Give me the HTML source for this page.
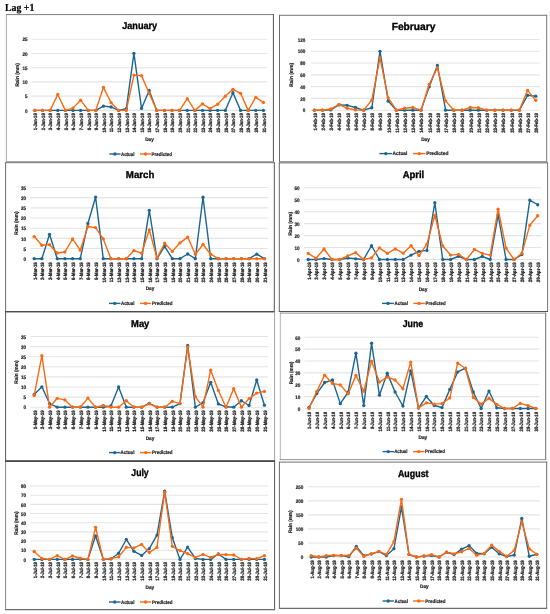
<!DOCTYPE html><html><head><meta charset="utf-8"><title>Lag +1</title><style>html,body{margin:0;padding:0;background:#fff}body{width:550px;height:614px;overflow:hidden}svg{display:block}svg{filter:blur(0.3px)}text{text-rendering:geometricPrecision;font-family:"Liberation Sans",sans-serif;font-weight:bold;fill:#222;stroke:#222;stroke-width:0.2px}</style></head><body>
<svg width="550" height="614" viewBox="0 0 550 614">
<rect width="550" height="614" fill="#fff"/>
<text x="5" y="11" style="font-family:'Liberation Serif',serif;font-size:10.7px;fill:#000;stroke:#000;stroke-width:0.2px" textLength="29.3" lengthAdjust="spacingAndGlyphs">Lag +1</text>
<g>
<line x1="6.4" x2="6.4" y1="14.2" y2="162.1" stroke="#9e9e9e" stroke-width="0.9"/>
<line x1="6" x2="273.8" y1="14.6" y2="14.6" stroke="#6f6f6f" stroke-width="0.9"/>
<line x1="273.4" x2="273.4" y1="14.2" y2="162.1" stroke="#515151" stroke-width="1.0"/>
<line x1="6" x2="273.8" y1="161.7" y2="161.7" stroke="#979797" stroke-width="1.0"/>
<text x="139.7" y="29" font-size="10.0" text-anchor="middle" textLength="35" lengthAdjust="spacingAndGlyphs" style="fill:#000;stroke:#000;stroke-width:0.35px">January</text>
<line x1="31.4" x2="267.3" y1="110.4" y2="110.4" stroke="#e4e4e4" stroke-width="1.1"/>
<text transform="translate(27.5 112.6) scale(0.9 1)" font-size="5.1" text-anchor="end">0</text>
<line x1="31.4" x2="267.3" y1="96.16" y2="96.16" stroke="#e4e4e4" stroke-width="1.1"/>
<text transform="translate(27.5 98.36) scale(0.9 1)" font-size="5.1" text-anchor="end">5</text>
<line x1="31.4" x2="267.3" y1="81.92" y2="81.92" stroke="#e4e4e4" stroke-width="1.1"/>
<text transform="translate(27.5 84.12) scale(0.9 1)" font-size="5.1" text-anchor="end">10</text>
<line x1="31.4" x2="267.3" y1="67.68" y2="67.68" stroke="#e4e4e4" stroke-width="1.1"/>
<text transform="translate(27.5 69.88) scale(0.9 1)" font-size="5.1" text-anchor="end">15</text>
<line x1="31.4" x2="267.3" y1="53.44" y2="53.44" stroke="#e4e4e4" stroke-width="1.1"/>
<text transform="translate(27.5 55.64) scale(0.9 1)" font-size="5.1" text-anchor="end">20</text>
<line x1="31.4" x2="267.3" y1="39.2" y2="39.2" stroke="#e4e4e4" stroke-width="1.1"/>
<text transform="translate(27.5 41.4) scale(0.9 1)" font-size="5.1" text-anchor="end">25</text>
<text transform="translate(18.8 74.8) rotate(-90)" font-size="5.1" text-anchor="middle" textLength="23.5" lengthAdjust="spacingAndGlyphs">Rain (mm)</text>
<text transform="translate(37.2 113.3) rotate(-90) scale(0.85 1)" font-size="4.9" text-anchor="end" style="stroke-width:0.28px">1-Jan-19</text>
<text transform="translate(44.82 113.3) rotate(-90) scale(0.85 1)" font-size="4.9" text-anchor="end" style="stroke-width:0.28px">2-Jan-19</text>
<text transform="translate(52.43 113.3) rotate(-90) scale(0.85 1)" font-size="4.9" text-anchor="end" style="stroke-width:0.28px">3-Jan-19</text>
<text transform="translate(60.05 113.3) rotate(-90) scale(0.85 1)" font-size="4.9" text-anchor="end" style="stroke-width:0.28px">4-Jan-19</text>
<text transform="translate(67.67 113.3) rotate(-90) scale(0.85 1)" font-size="4.9" text-anchor="end" style="stroke-width:0.28px">5-Jan-19</text>
<text transform="translate(75.28 113.3) rotate(-90) scale(0.85 1)" font-size="4.9" text-anchor="end" style="stroke-width:0.28px">6-Jan-19</text>
<text transform="translate(82.9 113.3) rotate(-90) scale(0.85 1)" font-size="4.9" text-anchor="end" style="stroke-width:0.28px">7-Jan-19</text>
<text transform="translate(90.52 113.3) rotate(-90) scale(0.85 1)" font-size="4.9" text-anchor="end" style="stroke-width:0.28px">8-Jan-19</text>
<text transform="translate(98.13 113.3) rotate(-90) scale(0.85 1)" font-size="4.9" text-anchor="end" style="stroke-width:0.28px">9-Jan-19</text>
<text transform="translate(105.75 113.3) rotate(-90) scale(0.85 1)" font-size="4.9" text-anchor="end" style="stroke-width:0.28px">10-Jan-19</text>
<text transform="translate(113.37 113.3) rotate(-90) scale(0.85 1)" font-size="4.9" text-anchor="end" style="stroke-width:0.28px">11-Jan-19</text>
<text transform="translate(120.98 113.3) rotate(-90) scale(0.85 1)" font-size="4.9" text-anchor="end" style="stroke-width:0.28px">12-Jan-19</text>
<text transform="translate(128.6 113.3) rotate(-90) scale(0.85 1)" font-size="4.9" text-anchor="end" style="stroke-width:0.28px">13-Jan-19</text>
<text transform="translate(136.22 113.3) rotate(-90) scale(0.85 1)" font-size="4.9" text-anchor="end" style="stroke-width:0.28px">14-Jan-19</text>
<text transform="translate(143.83 113.3) rotate(-90) scale(0.85 1)" font-size="4.9" text-anchor="end" style="stroke-width:0.28px">15-Jan-19</text>
<text transform="translate(151.45 113.3) rotate(-90) scale(0.85 1)" font-size="4.9" text-anchor="end" style="stroke-width:0.28px">16-Jan-19</text>
<text transform="translate(159.07 113.3) rotate(-90) scale(0.85 1)" font-size="4.9" text-anchor="end" style="stroke-width:0.28px">17-Jan-19</text>
<text transform="translate(166.68 113.3) rotate(-90) scale(0.85 1)" font-size="4.9" text-anchor="end" style="stroke-width:0.28px">18-Jan-19</text>
<text transform="translate(174.3 113.3) rotate(-90) scale(0.85 1)" font-size="4.9" text-anchor="end" style="stroke-width:0.28px">19-Jan-19</text>
<text transform="translate(181.92 113.3) rotate(-90) scale(0.85 1)" font-size="4.9" text-anchor="end" style="stroke-width:0.28px">20-Jan-19</text>
<text transform="translate(189.53 113.3) rotate(-90) scale(0.85 1)" font-size="4.9" text-anchor="end" style="stroke-width:0.28px">21-Jan-19</text>
<text transform="translate(197.15 113.3) rotate(-90) scale(0.85 1)" font-size="4.9" text-anchor="end" style="stroke-width:0.28px">22-Jan-19</text>
<text transform="translate(204.77 113.3) rotate(-90) scale(0.85 1)" font-size="4.9" text-anchor="end" style="stroke-width:0.28px">23-Jan-19</text>
<text transform="translate(212.38 113.3) rotate(-90) scale(0.85 1)" font-size="4.9" text-anchor="end" style="stroke-width:0.28px">24-Jan-19</text>
<text transform="translate(220 113.3) rotate(-90) scale(0.85 1)" font-size="4.9" text-anchor="end" style="stroke-width:0.28px">25-Jan-19</text>
<text transform="translate(227.62 113.3) rotate(-90) scale(0.85 1)" font-size="4.9" text-anchor="end" style="stroke-width:0.28px">26-Jan-19</text>
<text transform="translate(235.23 113.3) rotate(-90) scale(0.85 1)" font-size="4.9" text-anchor="end" style="stroke-width:0.28px">27-Jan-19</text>
<text transform="translate(242.85 113.3) rotate(-90) scale(0.85 1)" font-size="4.9" text-anchor="end" style="stroke-width:0.28px">28-Jan-19</text>
<text transform="translate(250.47 113.3) rotate(-90) scale(0.85 1)" font-size="4.9" text-anchor="end" style="stroke-width:0.28px">29-Jan-19</text>
<text transform="translate(258.08 113.3) rotate(-90) scale(0.85 1)" font-size="4.9" text-anchor="end" style="stroke-width:0.28px">30-Jan-19</text>
<text transform="translate(265.7 113.3) rotate(-90) scale(0.85 1)" font-size="4.9" text-anchor="end" style="stroke-width:0.28px">31-Jan-19</text>
<text transform="translate(149.5 141.3) scale(0.92 1)" font-size="5.1" text-anchor="middle">Day</text>
<polyline points="34.9,110.4 42.52,110.4 50.13,110.4 57.75,110.4 65.37,110.4 72.98,110.4 80.6,110.4 88.22,110.4 95.83,110.4 103.45,106.13 111.07,106.98 118.68,110.4 126.3,108.69 133.92,53.44 141.53,108.41 149.15,90.46 156.77,110.4 164.38,110.4 172,110.4 179.62,110.4 187.23,110.4 194.85,110.4 202.47,110.4 210.08,110.4 217.7,110.4 225.32,110.4 232.93,92.74 240.55,110.4 248.17,110.4 255.78,110.4 263.4,110.4" fill="none" stroke="#1b6690" stroke-width="1.4" stroke-linejoin="round" stroke-linecap="round"/>
<g fill="#1b6690"><circle cx="34.9" cy="110.4" r="1.65"/><circle cx="42.52" cy="110.4" r="1.65"/><circle cx="50.13" cy="110.4" r="1.65"/><circle cx="57.75" cy="110.4" r="1.65"/><circle cx="65.37" cy="110.4" r="1.65"/><circle cx="72.98" cy="110.4" r="1.65"/><circle cx="80.6" cy="110.4" r="1.65"/><circle cx="88.22" cy="110.4" r="1.65"/><circle cx="95.83" cy="110.4" r="1.65"/><circle cx="103.45" cy="106.13" r="1.65"/><circle cx="111.07" cy="106.98" r="1.65"/><circle cx="118.68" cy="110.4" r="1.65"/><circle cx="126.3" cy="108.69" r="1.65"/><circle cx="133.92" cy="53.44" r="1.65"/><circle cx="141.53" cy="108.41" r="1.65"/><circle cx="149.15" cy="90.46" r="1.65"/><circle cx="156.77" cy="110.4" r="1.65"/><circle cx="164.38" cy="110.4" r="1.65"/><circle cx="172" cy="110.4" r="1.65"/><circle cx="179.62" cy="110.4" r="1.65"/><circle cx="187.23" cy="110.4" r="1.65"/><circle cx="194.85" cy="110.4" r="1.65"/><circle cx="202.47" cy="110.4" r="1.65"/><circle cx="210.08" cy="110.4" r="1.65"/><circle cx="217.7" cy="110.4" r="1.65"/><circle cx="225.32" cy="110.4" r="1.65"/><circle cx="232.93" cy="92.74" r="1.65"/><circle cx="240.55" cy="110.4" r="1.65"/><circle cx="248.17" cy="110.4" r="1.65"/><circle cx="255.78" cy="110.4" r="1.65"/><circle cx="263.4" cy="110.4" r="1.65"/></g>
<polyline points="34.9,110.4 42.52,110.4 50.13,110.4 57.75,94.45 65.37,110.4 72.98,108.12 80.6,100.15 88.22,110.4 95.83,110.4 103.45,87.33 111.07,102.71 118.68,110.4 126.3,110.4 133.92,75.08 141.53,75.65 149.15,93.31 156.77,110.4 164.38,110.4 172,110.4 179.62,110.4 187.23,98.72 194.85,110.4 202.47,103.85 210.08,108.69 217.7,104.13 225.32,96.16 232.93,89.32 240.55,93.31 248.17,110.4 255.78,97.3 263.4,102.43" fill="none" stroke="#f96a13" stroke-width="1.4" stroke-linejoin="round" stroke-linecap="round"/>
<g fill="#f96a13"><circle cx="34.9" cy="110.4" r="1.65"/><circle cx="42.52" cy="110.4" r="1.65"/><circle cx="50.13" cy="110.4" r="1.65"/><circle cx="57.75" cy="94.45" r="1.65"/><circle cx="65.37" cy="110.4" r="1.65"/><circle cx="72.98" cy="108.12" r="1.65"/><circle cx="80.6" cy="100.15" r="1.65"/><circle cx="88.22" cy="110.4" r="1.65"/><circle cx="95.83" cy="110.4" r="1.65"/><circle cx="103.45" cy="87.33" r="1.65"/><circle cx="111.07" cy="102.71" r="1.65"/><circle cx="118.68" cy="110.4" r="1.65"/><circle cx="126.3" cy="110.4" r="1.65"/><circle cx="133.92" cy="75.08" r="1.65"/><circle cx="141.53" cy="75.65" r="1.65"/><circle cx="149.15" cy="93.31" r="1.65"/><circle cx="156.77" cy="110.4" r="1.65"/><circle cx="164.38" cy="110.4" r="1.65"/><circle cx="172" cy="110.4" r="1.65"/><circle cx="179.62" cy="110.4" r="1.65"/><circle cx="187.23" cy="98.72" r="1.65"/><circle cx="194.85" cy="110.4" r="1.65"/><circle cx="202.47" cy="103.85" r="1.65"/><circle cx="210.08" cy="108.69" r="1.65"/><circle cx="217.7" cy="104.13" r="1.65"/><circle cx="225.32" cy="96.16" r="1.65"/><circle cx="232.93" cy="89.32" r="1.65"/><circle cx="240.55" cy="93.31" r="1.65"/><circle cx="248.17" cy="110.4" r="1.65"/><circle cx="255.78" cy="97.3" r="1.65"/><circle cx="263.4" cy="102.43" r="1.65"/></g>
<line x1="109.4" x2="120.5" y1="154" y2="154" stroke="#1b6690" stroke-width="1.4"/><circle cx="114.95" cy="154" r="1.65" fill="#1b6690"/>
<text x="121" y="155.7" font-size="5.1" textLength="13.4" lengthAdjust="spacingAndGlyphs">Actual</text>
<line x1="140" x2="151.1" y1="154" y2="154" stroke="#f96a13" stroke-width="1.4"/><circle cx="145.55" cy="154" r="1.65" fill="#f96a13"/>
<text x="151.6" y="155.7" font-size="5.1" textLength="20.4" lengthAdjust="spacingAndGlyphs">Predicted</text>
</g>
<g>
<line x1="279.5" x2="279.5" y1="14.9" y2="162.3" stroke="#6c6c6c" stroke-width="1.0"/>
<line x1="279.1" x2="547.1" y1="15.3" y2="15.3" stroke="#737373" stroke-width="1.0"/>
<line x1="546.7" x2="546.7" y1="14.9" y2="162.3" stroke="#737373" stroke-width="1.0"/>
<line x1="279.1" x2="547.1" y1="161.9" y2="161.9" stroke="#7e7e7e" stroke-width="1.2"/>
<text x="413.55" y="29.5" font-size="10.3" text-anchor="middle" textLength="43.7" lengthAdjust="spacingAndGlyphs" style="fill:#000;stroke:#000;stroke-width:0.35px">February</text>
<line x1="311" x2="539.6" y1="110.2" y2="110.2" stroke="#e4e4e4" stroke-width="1.1"/>
<text transform="translate(305.3 112.4) scale(0.9 1)" font-size="5.1" text-anchor="end">0</text>
<line x1="311" x2="539.6" y1="98.42" y2="98.42" stroke="#e4e4e4" stroke-width="1.1"/>
<text transform="translate(305.3 100.62) scale(0.9 1)" font-size="5.1" text-anchor="end">20</text>
<line x1="311" x2="539.6" y1="86.63" y2="86.63" stroke="#e4e4e4" stroke-width="1.1"/>
<text transform="translate(305.3 88.83) scale(0.9 1)" font-size="5.1" text-anchor="end">40</text>
<line x1="311" x2="539.6" y1="74.85" y2="74.85" stroke="#e4e4e4" stroke-width="1.1"/>
<text transform="translate(305.3 77.05) scale(0.9 1)" font-size="5.1" text-anchor="end">60</text>
<line x1="311" x2="539.6" y1="63.07" y2="63.07" stroke="#e4e4e4" stroke-width="1.1"/>
<text transform="translate(305.3 65.27) scale(0.9 1)" font-size="5.1" text-anchor="end">80</text>
<line x1="311" x2="539.6" y1="51.28" y2="51.28" stroke="#e4e4e4" stroke-width="1.1"/>
<text transform="translate(305.3 53.48) scale(0.9 1)" font-size="5.1" text-anchor="end">100</text>
<line x1="311" x2="539.6" y1="39.5" y2="39.5" stroke="#e4e4e4" stroke-width="1.1"/>
<text transform="translate(305.3 41.7) scale(0.9 1)" font-size="5.1" text-anchor="end">120</text>
<text transform="translate(293.2 74.8) rotate(-90)" font-size="5.1" text-anchor="middle" textLength="23.8" lengthAdjust="spacingAndGlyphs">Rain (mm)</text>
<text transform="translate(316.7 113) rotate(-90) scale(0.87 1)" font-size="4.9" text-anchor="end" style="stroke-width:0.28px">1-Feb-19</text>
<text transform="translate(324.9 113) rotate(-90) scale(0.87 1)" font-size="4.9" text-anchor="end" style="stroke-width:0.28px">2-Feb-19</text>
<text transform="translate(333.1 113) rotate(-90) scale(0.87 1)" font-size="4.9" text-anchor="end" style="stroke-width:0.28px">3-Feb-19</text>
<text transform="translate(341.3 113) rotate(-90) scale(0.87 1)" font-size="4.9" text-anchor="end" style="stroke-width:0.28px">4-Feb-19</text>
<text transform="translate(349.5 113) rotate(-90) scale(0.87 1)" font-size="4.9" text-anchor="end" style="stroke-width:0.28px">5-Feb-19</text>
<text transform="translate(357.7 113) rotate(-90) scale(0.87 1)" font-size="4.9" text-anchor="end" style="stroke-width:0.28px">6-Feb-19</text>
<text transform="translate(365.9 113) rotate(-90) scale(0.87 1)" font-size="4.9" text-anchor="end" style="stroke-width:0.28px">7-Feb-19</text>
<text transform="translate(374.1 113) rotate(-90) scale(0.87 1)" font-size="4.9" text-anchor="end" style="stroke-width:0.28px">8-Feb-19</text>
<text transform="translate(382.3 113) rotate(-90) scale(0.87 1)" font-size="4.9" text-anchor="end" style="stroke-width:0.28px">9-Feb-19</text>
<text transform="translate(390.5 113) rotate(-90) scale(0.87 1)" font-size="4.9" text-anchor="end" style="stroke-width:0.28px">10-Feb-19</text>
<text transform="translate(398.7 113) rotate(-90) scale(0.87 1)" font-size="4.9" text-anchor="end" style="stroke-width:0.28px">11-Feb-19</text>
<text transform="translate(406.9 113) rotate(-90) scale(0.87 1)" font-size="4.9" text-anchor="end" style="stroke-width:0.28px">12-Feb-19</text>
<text transform="translate(415.1 113) rotate(-90) scale(0.87 1)" font-size="4.9" text-anchor="end" style="stroke-width:0.28px">13-Feb-19</text>
<text transform="translate(423.3 113) rotate(-90) scale(0.87 1)" font-size="4.9" text-anchor="end" style="stroke-width:0.28px">14-Feb-19</text>
<text transform="translate(431.5 113) rotate(-90) scale(0.87 1)" font-size="4.9" text-anchor="end" style="stroke-width:0.28px">15-Feb-19</text>
<text transform="translate(439.7 113) rotate(-90) scale(0.87 1)" font-size="4.9" text-anchor="end" style="stroke-width:0.28px">16-Feb-19</text>
<text transform="translate(447.9 113) rotate(-90) scale(0.87 1)" font-size="4.9" text-anchor="end" style="stroke-width:0.28px">17-Feb-19</text>
<text transform="translate(456.1 113) rotate(-90) scale(0.87 1)" font-size="4.9" text-anchor="end" style="stroke-width:0.28px">18-Feb-19</text>
<text transform="translate(464.3 113) rotate(-90) scale(0.87 1)" font-size="4.9" text-anchor="end" style="stroke-width:0.28px">19-Feb-19</text>
<text transform="translate(472.5 113) rotate(-90) scale(0.87 1)" font-size="4.9" text-anchor="end" style="stroke-width:0.28px">20-Feb-19</text>
<text transform="translate(480.7 113) rotate(-90) scale(0.87 1)" font-size="4.9" text-anchor="end" style="stroke-width:0.28px">21-Feb-19</text>
<text transform="translate(488.9 113) rotate(-90) scale(0.87 1)" font-size="4.9" text-anchor="end" style="stroke-width:0.28px">22-Feb-19</text>
<text transform="translate(497.1 113) rotate(-90) scale(0.87 1)" font-size="4.9" text-anchor="end" style="stroke-width:0.28px">23-Feb-19</text>
<text transform="translate(505.3 113) rotate(-90) scale(0.87 1)" font-size="4.9" text-anchor="end" style="stroke-width:0.28px">24-Feb-19</text>
<text transform="translate(513.5 113) rotate(-90) scale(0.87 1)" font-size="4.9" text-anchor="end" style="stroke-width:0.28px">25-Feb-19</text>
<text transform="translate(521.7 113) rotate(-90) scale(0.87 1)" font-size="4.9" text-anchor="end" style="stroke-width:0.28px">26-Feb-19</text>
<text transform="translate(529.9 113) rotate(-90) scale(0.87 1)" font-size="4.9" text-anchor="end" style="stroke-width:0.28px">27-Feb-19</text>
<text transform="translate(538.1 113) rotate(-90) scale(0.87 1)" font-size="4.9" text-anchor="end" style="stroke-width:0.28px">28-Feb-19</text>
<text transform="translate(425.5 141.3) scale(0.92 1)" font-size="5.1" text-anchor="middle">Day</text>
<polyline points="314.4,110.2 322.6,110.2 330.8,109.91 339,104.9 347.2,105.31 355.4,107.49 363.6,110.2 371.8,107.73 380,51.28 388.2,101.13 396.4,110.2 404.6,110.2 412.8,110.2 421,110.2 429.2,86.87 437.4,65.42 445.6,110.2 453.8,110.2 462,110.2 470.2,110.2 478.4,110.2 486.6,110.2 494.8,110.2 503,110.2 511.2,110.2 519.4,110.2 527.6,95.24 535.8,96.21" fill="none" stroke="#1b6690" stroke-width="1.4" stroke-linejoin="round" stroke-linecap="round"/>
<g fill="#1b6690"><circle cx="314.4" cy="110.2" r="1.65"/><circle cx="322.6" cy="110.2" r="1.65"/><circle cx="330.8" cy="109.91" r="1.65"/><circle cx="339" cy="104.9" r="1.65"/><circle cx="347.2" cy="105.31" r="1.65"/><circle cx="355.4" cy="107.49" r="1.65"/><circle cx="363.6" cy="110.2" r="1.65"/><circle cx="371.8" cy="107.73" r="1.65"/><circle cx="380" cy="51.28" r="1.65"/><circle cx="388.2" cy="101.13" r="1.65"/><circle cx="396.4" cy="110.2" r="1.65"/><circle cx="404.6" cy="110.2" r="1.65"/><circle cx="412.8" cy="110.2" r="1.65"/><circle cx="421" cy="110.2" r="1.65"/><circle cx="429.2" cy="86.87" r="1.65"/><circle cx="437.4" cy="65.42" r="1.65"/><circle cx="445.6" cy="110.2" r="1.65"/><circle cx="453.8" cy="110.2" r="1.65"/><circle cx="462" cy="110.2" r="1.65"/><circle cx="470.2" cy="110.2" r="1.65"/><circle cx="478.4" cy="110.2" r="1.65"/><circle cx="486.6" cy="110.2" r="1.65"/><circle cx="494.8" cy="110.2" r="1.65"/><circle cx="503" cy="110.2" r="1.65"/><circle cx="511.2" cy="110.2" r="1.65"/><circle cx="519.4" cy="110.2" r="1.65"/><circle cx="527.6" cy="95.24" r="1.65"/><circle cx="535.8" cy="96.21" r="1.65"/></g>
<polyline points="314.4,110.2 322.6,110.2 330.8,109.02 339,104.31 347.2,108.26 355.4,109.91 363.6,110.2 371.8,100.18 380,57.91 388.2,97.83 396.4,110.2 404.6,108.26 412.8,107.49 421,110.2 429.2,84.28 437.4,67.78 445.6,100.89 453.8,110.2 462,110.2 470.2,107.49 478.4,107.73 486.6,110.2 494.8,110.2 503,110.2 511.2,110.2 519.4,109.91 527.6,90.32 535.8,100.36" fill="none" stroke="#f96a13" stroke-width="1.4" stroke-linejoin="round" stroke-linecap="round"/>
<g fill="#f96a13"><circle cx="314.4" cy="110.2" r="1.65"/><circle cx="322.6" cy="110.2" r="1.65"/><circle cx="330.8" cy="109.02" r="1.65"/><circle cx="339" cy="104.31" r="1.65"/><circle cx="347.2" cy="108.26" r="1.65"/><circle cx="355.4" cy="109.91" r="1.65"/><circle cx="363.6" cy="110.2" r="1.65"/><circle cx="371.8" cy="100.18" r="1.65"/><circle cx="380" cy="57.91" r="1.65"/><circle cx="388.2" cy="97.83" r="1.65"/><circle cx="396.4" cy="110.2" r="1.65"/><circle cx="404.6" cy="108.26" r="1.65"/><circle cx="412.8" cy="107.49" r="1.65"/><circle cx="421" cy="110.2" r="1.65"/><circle cx="429.2" cy="84.28" r="1.65"/><circle cx="437.4" cy="67.78" r="1.65"/><circle cx="445.6" cy="100.89" r="1.65"/><circle cx="453.8" cy="110.2" r="1.65"/><circle cx="462" cy="110.2" r="1.65"/><circle cx="470.2" cy="107.49" r="1.65"/><circle cx="478.4" cy="107.73" r="1.65"/><circle cx="486.6" cy="110.2" r="1.65"/><circle cx="494.8" cy="110.2" r="1.65"/><circle cx="503" cy="110.2" r="1.65"/><circle cx="511.2" cy="110.2" r="1.65"/><circle cx="519.4" cy="109.91" r="1.65"/><circle cx="527.6" cy="90.32" r="1.65"/><circle cx="535.8" cy="100.36" r="1.65"/></g>
<line x1="379.4" x2="392.1" y1="153.6" y2="153.6" stroke="#1b6690" stroke-width="1.4"/><circle cx="385.75" cy="153.6" r="1.65" fill="#1b6690"/>
<text x="392.6" y="155.3" font-size="5.1" textLength="14.8" lengthAdjust="spacingAndGlyphs">Actual</text>
<line x1="413" x2="425.5" y1="153.6" y2="153.6" stroke="#f96a13" stroke-width="1.4"/><circle cx="419.25" cy="153.6" r="1.65" fill="#f96a13"/>
<text x="426.2" y="155.3" font-size="5.1" textLength="22.2" lengthAdjust="spacingAndGlyphs">Predicted</text>
</g>
<g>
<line x1="5.6" x2="5.6" y1="162.3" y2="312" stroke="#5b5b5b" stroke-width="0.9"/>
<line x1="5.2" x2="274.7" y1="162.7" y2="162.7" stroke="#737373" stroke-width="1.0"/>
<line x1="274.3" x2="274.3" y1="162.3" y2="312" stroke="#565656" stroke-width="1.0"/>
<line x1="5.2" x2="274.7" y1="311.6" y2="311.6" stroke="#4c4c4c" stroke-width="1.2"/>
<text x="140.1" y="178" font-size="10.0" text-anchor="middle" textLength="28.5" lengthAdjust="spacingAndGlyphs" style="fill:#000;stroke:#000;stroke-width:0.35px">March</text>
<line x1="30.5" x2="267.8" y1="258.7" y2="258.7" stroke="#e4e4e4" stroke-width="1.1"/>
<text transform="translate(26.1 260.9) scale(0.9 1)" font-size="5.1" text-anchor="end">0</text>
<line x1="30.5" x2="267.8" y1="248.53" y2="248.53" stroke="#e4e4e4" stroke-width="1.1"/>
<text transform="translate(26.1 250.73) scale(0.9 1)" font-size="5.1" text-anchor="end">5</text>
<line x1="30.5" x2="267.8" y1="238.36" y2="238.36" stroke="#e4e4e4" stroke-width="1.1"/>
<text transform="translate(26.1 240.56) scale(0.9 1)" font-size="5.1" text-anchor="end">10</text>
<line x1="30.5" x2="267.8" y1="228.19" y2="228.19" stroke="#e4e4e4" stroke-width="1.1"/>
<text transform="translate(26.1 230.39) scale(0.9 1)" font-size="5.1" text-anchor="end">15</text>
<line x1="30.5" x2="267.8" y1="218.01" y2="218.01" stroke="#e4e4e4" stroke-width="1.1"/>
<text transform="translate(26.1 220.21) scale(0.9 1)" font-size="5.1" text-anchor="end">20</text>
<line x1="30.5" x2="267.8" y1="207.84" y2="207.84" stroke="#e4e4e4" stroke-width="1.1"/>
<text transform="translate(26.1 210.04) scale(0.9 1)" font-size="5.1" text-anchor="end">25</text>
<line x1="30.5" x2="267.8" y1="197.67" y2="197.67" stroke="#e4e4e4" stroke-width="1.1"/>
<text transform="translate(26.1 199.87) scale(0.9 1)" font-size="5.1" text-anchor="end">30</text>
<line x1="30.5" x2="267.8" y1="187.5" y2="187.5" stroke="#e4e4e4" stroke-width="1.1"/>
<text transform="translate(26.1 189.7) scale(0.9 1)" font-size="5.1" text-anchor="end">35</text>
<text transform="translate(18.3 223) rotate(-90)" font-size="5.1" text-anchor="middle" textLength="23.3" lengthAdjust="spacingAndGlyphs">Rain (mm)</text>
<text transform="translate(36.5 262.2) rotate(-90) scale(0.89 1)" font-size="4.9" text-anchor="end" style="stroke-width:0.28px">1-Mar-19</text>
<text transform="translate(44.17 262.2) rotate(-90) scale(0.89 1)" font-size="4.9" text-anchor="end" style="stroke-width:0.28px">2-Mar-19</text>
<text transform="translate(51.85 262.2) rotate(-90) scale(0.89 1)" font-size="4.9" text-anchor="end" style="stroke-width:0.28px">3-Mar-19</text>
<text transform="translate(59.52 262.2) rotate(-90) scale(0.89 1)" font-size="4.9" text-anchor="end" style="stroke-width:0.28px">4-Mar-19</text>
<text transform="translate(67.19 262.2) rotate(-90) scale(0.89 1)" font-size="4.9" text-anchor="end" style="stroke-width:0.28px">5-Mar-19</text>
<text transform="translate(74.87 262.2) rotate(-90) scale(0.89 1)" font-size="4.9" text-anchor="end" style="stroke-width:0.28px">6-Mar-19</text>
<text transform="translate(82.54 262.2) rotate(-90) scale(0.89 1)" font-size="4.9" text-anchor="end" style="stroke-width:0.28px">7-Mar-19</text>
<text transform="translate(90.21 262.2) rotate(-90) scale(0.89 1)" font-size="4.9" text-anchor="end" style="stroke-width:0.28px">8-Mar-19</text>
<text transform="translate(97.89 262.2) rotate(-90) scale(0.89 1)" font-size="4.9" text-anchor="end" style="stroke-width:0.28px">9-Mar-19</text>
<text transform="translate(105.56 262.2) rotate(-90) scale(0.89 1)" font-size="4.9" text-anchor="end" style="stroke-width:0.28px">10-Mar-19</text>
<text transform="translate(113.23 262.2) rotate(-90) scale(0.89 1)" font-size="4.9" text-anchor="end" style="stroke-width:0.28px">11-Mar-19</text>
<text transform="translate(120.91 262.2) rotate(-90) scale(0.89 1)" font-size="4.9" text-anchor="end" style="stroke-width:0.28px">12-Mar-19</text>
<text transform="translate(128.58 262.2) rotate(-90) scale(0.89 1)" font-size="4.9" text-anchor="end" style="stroke-width:0.28px">13-Mar-19</text>
<text transform="translate(136.25 262.2) rotate(-90) scale(0.89 1)" font-size="4.9" text-anchor="end" style="stroke-width:0.28px">14-Mar-19</text>
<text transform="translate(143.93 262.2) rotate(-90) scale(0.89 1)" font-size="4.9" text-anchor="end" style="stroke-width:0.28px">15-Mar-19</text>
<text transform="translate(151.6 262.2) rotate(-90) scale(0.89 1)" font-size="4.9" text-anchor="end" style="stroke-width:0.28px">16-Mar-19</text>
<text transform="translate(159.27 262.2) rotate(-90) scale(0.89 1)" font-size="4.9" text-anchor="end" style="stroke-width:0.28px">17-Mar-19</text>
<text transform="translate(166.95 262.2) rotate(-90) scale(0.89 1)" font-size="4.9" text-anchor="end" style="stroke-width:0.28px">18-Mar-19</text>
<text transform="translate(174.62 262.2) rotate(-90) scale(0.89 1)" font-size="4.9" text-anchor="end" style="stroke-width:0.28px">19-Mar-19</text>
<text transform="translate(182.29 262.2) rotate(-90) scale(0.89 1)" font-size="4.9" text-anchor="end" style="stroke-width:0.28px">20-Mar-19</text>
<text transform="translate(189.97 262.2) rotate(-90) scale(0.89 1)" font-size="4.9" text-anchor="end" style="stroke-width:0.28px">21-Mar-19</text>
<text transform="translate(197.64 262.2) rotate(-90) scale(0.89 1)" font-size="4.9" text-anchor="end" style="stroke-width:0.28px">22-Mar-19</text>
<text transform="translate(205.31 262.2) rotate(-90) scale(0.89 1)" font-size="4.9" text-anchor="end" style="stroke-width:0.28px">23-Mar-19</text>
<text transform="translate(212.99 262.2) rotate(-90) scale(0.89 1)" font-size="4.9" text-anchor="end" style="stroke-width:0.28px">24-Mar-19</text>
<text transform="translate(220.66 262.2) rotate(-90) scale(0.89 1)" font-size="4.9" text-anchor="end" style="stroke-width:0.28px">25-Mar-19</text>
<text transform="translate(228.33 262.2) rotate(-90) scale(0.89 1)" font-size="4.9" text-anchor="end" style="stroke-width:0.28px">26-Mar-19</text>
<text transform="translate(236.01 262.2) rotate(-90) scale(0.89 1)" font-size="4.9" text-anchor="end" style="stroke-width:0.28px">27-Mar-19</text>
<text transform="translate(243.68 262.2) rotate(-90) scale(0.89 1)" font-size="4.9" text-anchor="end" style="stroke-width:0.28px">28-Mar-19</text>
<text transform="translate(251.35 262.2) rotate(-90) scale(0.89 1)" font-size="4.9" text-anchor="end" style="stroke-width:0.28px">29-Mar-19</text>
<text transform="translate(259.03 262.2) rotate(-90) scale(0.89 1)" font-size="4.9" text-anchor="end" style="stroke-width:0.28px">30-Mar-19</text>
<text transform="translate(266.7 262.2) rotate(-90) scale(0.89 1)" font-size="4.9" text-anchor="end" style="stroke-width:0.28px">31-Mar-19</text>
<text transform="translate(150 290.3) scale(0.92 1)" font-size="5.1" text-anchor="middle">Day</text>
<polyline points="34.2,258.7 41.87,258.7 49.55,234.29 57.22,258.7 64.89,258.7 72.57,258.7 80.24,258.7 87.91,223.51 95.59,197.06 103.26,258.7 110.93,258.7 118.61,258.7 126.28,258.7 133.95,258.7 141.63,258.7 149.3,210.28 156.97,258.7 164.65,246.49 172.32,258.7 179.99,258.7 187.67,254.02 195.34,258.7 203.01,197.26 210.69,258.7 218.36,258.7 226.03,258.7 233.71,258.7 241.38,258.7 249.05,258.7 256.73,254.22 264.4,258.7" fill="none" stroke="#1b6690" stroke-width="1.4" stroke-linejoin="round" stroke-linecap="round"/>
<g fill="#1b6690"><circle cx="34.2" cy="258.7" r="1.65"/><circle cx="41.87" cy="258.7" r="1.65"/><circle cx="49.55" cy="234.29" r="1.65"/><circle cx="57.22" cy="258.7" r="1.65"/><circle cx="64.89" cy="258.7" r="1.65"/><circle cx="72.57" cy="258.7" r="1.65"/><circle cx="80.24" cy="258.7" r="1.65"/><circle cx="87.91" cy="223.51" r="1.65"/><circle cx="95.59" cy="197.06" r="1.65"/><circle cx="103.26" cy="258.7" r="1.65"/><circle cx="110.93" cy="258.7" r="1.65"/><circle cx="118.61" cy="258.7" r="1.65"/><circle cx="126.28" cy="258.7" r="1.65"/><circle cx="133.95" cy="258.7" r="1.65"/><circle cx="141.63" cy="258.7" r="1.65"/><circle cx="149.3" cy="210.28" r="1.65"/><circle cx="156.97" cy="258.7" r="1.65"/><circle cx="164.65" cy="246.49" r="1.65"/><circle cx="172.32" cy="258.7" r="1.65"/><circle cx="179.99" cy="258.7" r="1.65"/><circle cx="187.67" cy="254.02" r="1.65"/><circle cx="195.34" cy="258.7" r="1.65"/><circle cx="203.01" cy="197.26" r="1.65"/><circle cx="210.69" cy="258.7" r="1.65"/><circle cx="218.36" cy="258.7" r="1.65"/><circle cx="226.03" cy="258.7" r="1.65"/><circle cx="233.71" cy="258.7" r="1.65"/><circle cx="241.38" cy="258.7" r="1.65"/><circle cx="249.05" cy="258.7" r="1.65"/><circle cx="256.73" cy="254.22" r="1.65"/><circle cx="264.4" cy="258.7" r="1.65"/></g>
<polyline points="34.2,236.53 41.87,245.27 49.55,244.66 57.22,253 64.89,251.99 72.57,238.97 80.24,250.16 87.91,226.56 95.59,227.58 103.26,238.97 110.93,258.7 118.61,258.7 126.28,258.7 133.95,250.56 141.63,253.21 149.3,229.81 156.97,258.09 164.65,243.24 172.32,251.38 179.99,242.83 187.67,237.14 195.34,254.22 203.01,244.46 210.69,254.22 218.36,258.7 226.03,258.7 233.71,258.7 241.38,258.7 249.05,258.7 256.73,258.7 264.4,258.7" fill="none" stroke="#f96a13" stroke-width="1.4" stroke-linejoin="round" stroke-linecap="round"/>
<g fill="#f96a13"><circle cx="34.2" cy="236.53" r="1.65"/><circle cx="41.87" cy="245.27" r="1.65"/><circle cx="49.55" cy="244.66" r="1.65"/><circle cx="57.22" cy="253" r="1.65"/><circle cx="64.89" cy="251.99" r="1.65"/><circle cx="72.57" cy="238.97" r="1.65"/><circle cx="80.24" cy="250.16" r="1.65"/><circle cx="87.91" cy="226.56" r="1.65"/><circle cx="95.59" cy="227.58" r="1.65"/><circle cx="103.26" cy="238.97" r="1.65"/><circle cx="110.93" cy="258.7" r="1.65"/><circle cx="118.61" cy="258.7" r="1.65"/><circle cx="126.28" cy="258.7" r="1.65"/><circle cx="133.95" cy="250.56" r="1.65"/><circle cx="141.63" cy="253.21" r="1.65"/><circle cx="149.3" cy="229.81" r="1.65"/><circle cx="156.97" cy="258.09" r="1.65"/><circle cx="164.65" cy="243.24" r="1.65"/><circle cx="172.32" cy="251.38" r="1.65"/><circle cx="179.99" cy="242.83" r="1.65"/><circle cx="187.67" cy="237.14" r="1.65"/><circle cx="195.34" cy="254.22" r="1.65"/><circle cx="203.01" cy="244.46" r="1.65"/><circle cx="210.69" cy="254.22" r="1.65"/><circle cx="218.36" cy="258.7" r="1.65"/><circle cx="226.03" cy="258.7" r="1.65"/><circle cx="233.71" cy="258.7" r="1.65"/><circle cx="241.38" cy="258.7" r="1.65"/><circle cx="249.05" cy="258.7" r="1.65"/><circle cx="256.73" cy="258.7" r="1.65"/><circle cx="264.4" cy="258.7" r="1.65"/></g>
<line x1="109" x2="120.5" y1="303.4" y2="303.4" stroke="#1b6690" stroke-width="1.4"/><circle cx="114.75" cy="303.4" r="1.65" fill="#1b6690"/>
<text x="121" y="305.1" font-size="5.1" textLength="13.4" lengthAdjust="spacingAndGlyphs">Actual</text>
<line x1="140" x2="151.1" y1="303.4" y2="303.4" stroke="#f96a13" stroke-width="1.4"/><circle cx="145.55" cy="303.4" r="1.65" fill="#f96a13"/>
<text x="152" y="305.1" font-size="5.1" textLength="20.4" lengthAdjust="spacingAndGlyphs">Predicted</text>
</g>
<g>
<line x1="279.3" x2="279.3" y1="162.5" y2="311.9" stroke="#646464" stroke-width="1.0"/>
<line x1="278.9" x2="548" y1="162.9" y2="162.9" stroke="#777777" stroke-width="1.0"/>
<line x1="547.6" x2="547.6" y1="162.5" y2="311.9" stroke="#737373" stroke-width="1.0"/>
<line x1="278.9" x2="548" y1="311.5" y2="311.5" stroke="#565656" stroke-width="1.1"/>
<text x="413.45" y="178.1" font-size="10.0" text-anchor="middle" textLength="21.6" lengthAdjust="spacingAndGlyphs" style="fill:#000;stroke:#000;stroke-width:0.35px">April</text>
<line x1="304" x2="541.3" y1="259.5" y2="259.5" stroke="#e4e4e4" stroke-width="1.1"/>
<text transform="translate(299.6 261.7) scale(0.9 1)" font-size="5.1" text-anchor="end">0</text>
<line x1="304" x2="541.3" y1="247.55" y2="247.55" stroke="#e4e4e4" stroke-width="1.1"/>
<text transform="translate(299.6 249.75) scale(0.9 1)" font-size="5.1" text-anchor="end">10</text>
<line x1="304" x2="541.3" y1="235.6" y2="235.6" stroke="#e4e4e4" stroke-width="1.1"/>
<text transform="translate(299.6 237.8) scale(0.9 1)" font-size="5.1" text-anchor="end">20</text>
<line x1="304" x2="541.3" y1="223.65" y2="223.65" stroke="#e4e4e4" stroke-width="1.1"/>
<text transform="translate(299.6 225.85) scale(0.9 1)" font-size="5.1" text-anchor="end">30</text>
<line x1="304" x2="541.3" y1="211.7" y2="211.7" stroke="#e4e4e4" stroke-width="1.1"/>
<text transform="translate(299.6 213.9) scale(0.9 1)" font-size="5.1" text-anchor="end">40</text>
<line x1="304" x2="541.3" y1="199.75" y2="199.75" stroke="#e4e4e4" stroke-width="1.1"/>
<text transform="translate(299.6 201.95) scale(0.9 1)" font-size="5.1" text-anchor="end">50</text>
<line x1="304" x2="541.3" y1="187.8" y2="187.8" stroke="#e4e4e4" stroke-width="1.1"/>
<text transform="translate(299.6 190) scale(0.9 1)" font-size="5.1" text-anchor="end">60</text>
<text transform="translate(292 223.7) rotate(-90)" font-size="5.1" text-anchor="middle" textLength="23.4" lengthAdjust="spacingAndGlyphs">Rain (mm)</text>
<text transform="translate(310.5 262.4) rotate(-90) scale(0.88 1)" font-size="4.9" text-anchor="end" style="stroke-width:0.28px">1-Apr-19</text>
<text transform="translate(318.41 262.4) rotate(-90) scale(0.88 1)" font-size="4.9" text-anchor="end" style="stroke-width:0.28px">2-Apr-19</text>
<text transform="translate(326.33 262.4) rotate(-90) scale(0.88 1)" font-size="4.9" text-anchor="end" style="stroke-width:0.28px">3-Apr-19</text>
<text transform="translate(334.24 262.4) rotate(-90) scale(0.88 1)" font-size="4.9" text-anchor="end" style="stroke-width:0.28px">4-Apr-19</text>
<text transform="translate(342.16 262.4) rotate(-90) scale(0.88 1)" font-size="4.9" text-anchor="end" style="stroke-width:0.28px">5-Apr-19</text>
<text transform="translate(350.07 262.4) rotate(-90) scale(0.88 1)" font-size="4.9" text-anchor="end" style="stroke-width:0.28px">6-Apr-19</text>
<text transform="translate(357.98 262.4) rotate(-90) scale(0.88 1)" font-size="4.9" text-anchor="end" style="stroke-width:0.28px">7-Apr-19</text>
<text transform="translate(365.9 262.4) rotate(-90) scale(0.88 1)" font-size="4.9" text-anchor="end" style="stroke-width:0.28px">8-Apr-19</text>
<text transform="translate(373.81 262.4) rotate(-90) scale(0.88 1)" font-size="4.9" text-anchor="end" style="stroke-width:0.28px">9-Apr-19</text>
<text transform="translate(381.72 262.4) rotate(-90) scale(0.88 1)" font-size="4.9" text-anchor="end" style="stroke-width:0.28px">10-Apr-19</text>
<text transform="translate(389.64 262.4) rotate(-90) scale(0.88 1)" font-size="4.9" text-anchor="end" style="stroke-width:0.28px">11-Apr-19</text>
<text transform="translate(397.55 262.4) rotate(-90) scale(0.88 1)" font-size="4.9" text-anchor="end" style="stroke-width:0.28px">12-Apr-19</text>
<text transform="translate(405.47 262.4) rotate(-90) scale(0.88 1)" font-size="4.9" text-anchor="end" style="stroke-width:0.28px">13-Apr-19</text>
<text transform="translate(413.38 262.4) rotate(-90) scale(0.88 1)" font-size="4.9" text-anchor="end" style="stroke-width:0.28px">14-Apr-19</text>
<text transform="translate(421.29 262.4) rotate(-90) scale(0.88 1)" font-size="4.9" text-anchor="end" style="stroke-width:0.28px">15-Apr-19</text>
<text transform="translate(429.21 262.4) rotate(-90) scale(0.88 1)" font-size="4.9" text-anchor="end" style="stroke-width:0.28px">16-Apr-19</text>
<text transform="translate(437.12 262.4) rotate(-90) scale(0.88 1)" font-size="4.9" text-anchor="end" style="stroke-width:0.28px">17-Apr-19</text>
<text transform="translate(445.03 262.4) rotate(-90) scale(0.88 1)" font-size="4.9" text-anchor="end" style="stroke-width:0.28px">18-Apr-19</text>
<text transform="translate(452.95 262.4) rotate(-90) scale(0.88 1)" font-size="4.9" text-anchor="end" style="stroke-width:0.28px">19-Apr-19</text>
<text transform="translate(460.86 262.4) rotate(-90) scale(0.88 1)" font-size="4.9" text-anchor="end" style="stroke-width:0.28px">20-Apr-19</text>
<text transform="translate(468.78 262.4) rotate(-90) scale(0.88 1)" font-size="4.9" text-anchor="end" style="stroke-width:0.28px">21-Apr-19</text>
<text transform="translate(476.69 262.4) rotate(-90) scale(0.88 1)" font-size="4.9" text-anchor="end" style="stroke-width:0.28px">22-Apr-19</text>
<text transform="translate(484.6 262.4) rotate(-90) scale(0.88 1)" font-size="4.9" text-anchor="end" style="stroke-width:0.28px">23-Apr-19</text>
<text transform="translate(492.52 262.4) rotate(-90) scale(0.88 1)" font-size="4.9" text-anchor="end" style="stroke-width:0.28px">24-Apr-19</text>
<text transform="translate(500.43 262.4) rotate(-90) scale(0.88 1)" font-size="4.9" text-anchor="end" style="stroke-width:0.28px">25-Apr-19</text>
<text transform="translate(508.34 262.4) rotate(-90) scale(0.88 1)" font-size="4.9" text-anchor="end" style="stroke-width:0.28px">26-Apr-19</text>
<text transform="translate(516.26 262.4) rotate(-90) scale(0.88 1)" font-size="4.9" text-anchor="end" style="stroke-width:0.28px">27-Apr-19</text>
<text transform="translate(524.17 262.4) rotate(-90) scale(0.88 1)" font-size="4.9" text-anchor="end" style="stroke-width:0.28px">28-Apr-19</text>
<text transform="translate(532.09 262.4) rotate(-90) scale(0.88 1)" font-size="4.9" text-anchor="end" style="stroke-width:0.28px">29-Apr-19</text>
<text transform="translate(540 262.4) rotate(-90) scale(0.88 1)" font-size="4.9" text-anchor="end" style="stroke-width:0.28px">30-Apr-19</text>
<text transform="translate(423 290.9) scale(0.92 1)" font-size="5.1" text-anchor="middle">Day</text>
<polyline points="308.2,259.5 316.11,259.5 324.03,258.54 331.94,259.5 339.86,259.5 347.77,258.07 355.68,258.78 363.6,259.5 371.51,245.76 379.42,259.5 387.34,259.5 395.25,259.5 403.17,259.5 411.08,255.08 418.99,251.37 426.91,250.42 434.82,202.74 442.73,259.5 450.65,259.5 458.56,256.27 466.48,259.5 474.39,259.5 482.3,256.51 490.22,259.5 498.13,214.81 506.04,259.5 513.96,259.5 521.87,254.6 529.79,200.11 537.7,204.77" fill="none" stroke="#1b6690" stroke-width="1.4" stroke-linejoin="round" stroke-linecap="round"/>
<g fill="#1b6690"><circle cx="308.2" cy="259.5" r="1.65"/><circle cx="316.11" cy="259.5" r="1.65"/><circle cx="324.03" cy="258.54" r="1.65"/><circle cx="331.94" cy="259.5" r="1.65"/><circle cx="339.86" cy="259.5" r="1.65"/><circle cx="347.77" cy="258.07" r="1.65"/><circle cx="355.68" cy="258.78" r="1.65"/><circle cx="363.6" cy="259.5" r="1.65"/><circle cx="371.51" cy="245.76" r="1.65"/><circle cx="379.42" cy="259.5" r="1.65"/><circle cx="387.34" cy="259.5" r="1.65"/><circle cx="395.25" cy="259.5" r="1.65"/><circle cx="403.17" cy="259.5" r="1.65"/><circle cx="411.08" cy="255.08" r="1.65"/><circle cx="418.99" cy="251.37" r="1.65"/><circle cx="426.91" cy="250.42" r="1.65"/><circle cx="434.82" cy="202.74" r="1.65"/><circle cx="442.73" cy="259.5" r="1.65"/><circle cx="450.65" cy="259.5" r="1.65"/><circle cx="458.56" cy="256.27" r="1.65"/><circle cx="466.48" cy="259.5" r="1.65"/><circle cx="474.39" cy="259.5" r="1.65"/><circle cx="482.3" cy="256.51" r="1.65"/><circle cx="490.22" cy="259.5" r="1.65"/><circle cx="498.13" cy="214.81" r="1.65"/><circle cx="506.04" cy="259.5" r="1.65"/><circle cx="513.96" cy="259.5" r="1.65"/><circle cx="521.87" cy="254.6" r="1.65"/><circle cx="529.79" cy="200.11" r="1.65"/><circle cx="537.7" cy="204.77" r="1.65"/></g>
<polyline points="308.2,253.41 316.11,258.31 324.03,248.98 331.94,259.5 339.86,259.5 347.77,255.8 355.68,252.63 363.6,259.5 371.51,257.83 379.42,247.91 387.34,253.41 395.25,248.98 403.17,253.17 411.08,245.76 418.99,255.56 426.91,244.08 434.82,215.28 442.73,246 450.65,255.08 458.56,254.36 466.48,259.5 474.39,249.46 482.3,253.41 490.22,255.08 498.13,209.19 506.04,248.15 513.96,259.5 521.87,253.41 529.79,225.32 537.7,215.76" fill="none" stroke="#f96a13" stroke-width="1.4" stroke-linejoin="round" stroke-linecap="round"/>
<g fill="#f96a13"><circle cx="308.2" cy="253.41" r="1.65"/><circle cx="316.11" cy="258.31" r="1.65"/><circle cx="324.03" cy="248.98" r="1.65"/><circle cx="331.94" cy="259.5" r="1.65"/><circle cx="339.86" cy="259.5" r="1.65"/><circle cx="347.77" cy="255.8" r="1.65"/><circle cx="355.68" cy="252.63" r="1.65"/><circle cx="363.6" cy="259.5" r="1.65"/><circle cx="371.51" cy="257.83" r="1.65"/><circle cx="379.42" cy="247.91" r="1.65"/><circle cx="387.34" cy="253.41" r="1.65"/><circle cx="395.25" cy="248.98" r="1.65"/><circle cx="403.17" cy="253.17" r="1.65"/><circle cx="411.08" cy="245.76" r="1.65"/><circle cx="418.99" cy="255.56" r="1.65"/><circle cx="426.91" cy="244.08" r="1.65"/><circle cx="434.82" cy="215.28" r="1.65"/><circle cx="442.73" cy="246" r="1.65"/><circle cx="450.65" cy="255.08" r="1.65"/><circle cx="458.56" cy="254.36" r="1.65"/><circle cx="466.48" cy="259.5" r="1.65"/><circle cx="474.39" cy="249.46" r="1.65"/><circle cx="482.3" cy="253.41" r="1.65"/><circle cx="490.22" cy="255.08" r="1.65"/><circle cx="498.13" cy="209.19" r="1.65"/><circle cx="506.04" cy="248.15" r="1.65"/><circle cx="513.96" cy="259.5" r="1.65"/><circle cx="521.87" cy="253.41" r="1.65"/><circle cx="529.79" cy="225.32" r="1.65"/><circle cx="537.7" cy="215.76" r="1.65"/></g>
<line x1="382" x2="393.9" y1="303.4" y2="303.4" stroke="#1b6690" stroke-width="1.4"/><circle cx="387.95" cy="303.4" r="1.65" fill="#1b6690"/>
<text x="394.6" y="305.1" font-size="5.1" textLength="13.4" lengthAdjust="spacingAndGlyphs">Actual</text>
<line x1="413.4" x2="424.9" y1="303.4" y2="303.4" stroke="#f96a13" stroke-width="1.4"/><circle cx="419.15" cy="303.4" r="1.65" fill="#f96a13"/>
<text x="425.6" y="305.1" font-size="5.1" textLength="20" lengthAdjust="spacingAndGlyphs">Predicted</text>
</g>
<g>
<line x1="5.6" x2="5.6" y1="311.2" y2="461.5" stroke="#565656" stroke-width="1.0"/>
<line x1="5.2" x2="275" y1="311.6" y2="311.6" stroke="#4c4c4c" stroke-width="1.2"/>
<line x1="274.6" x2="274.6" y1="311.2" y2="461.5" stroke="#979797" stroke-width="0.9"/>
<line x1="5.2" x2="275" y1="461.1" y2="461.1" stroke="#3d3d3d" stroke-width="1.3"/>
<text x="140.2" y="327.1" font-size="10.0" text-anchor="middle" textLength="18.3" lengthAdjust="spacingAndGlyphs" style="fill:#000;stroke:#000;stroke-width:0.35px">May</text>
<line x1="30.5" x2="268" y1="407.2" y2="407.2" stroke="#e4e4e4" stroke-width="1.1"/>
<text transform="translate(26.1 409.4) scale(0.9 1)" font-size="5.1" text-anchor="end">0</text>
<line x1="30.5" x2="268" y1="397.1" y2="397.1" stroke="#e4e4e4" stroke-width="1.1"/>
<text transform="translate(26.1 399.3) scale(0.9 1)" font-size="5.1" text-anchor="end">5</text>
<line x1="30.5" x2="268" y1="387" y2="387" stroke="#e4e4e4" stroke-width="1.1"/>
<text transform="translate(26.1 389.2) scale(0.9 1)" font-size="5.1" text-anchor="end">10</text>
<line x1="30.5" x2="268" y1="376.9" y2="376.9" stroke="#e4e4e4" stroke-width="1.1"/>
<text transform="translate(26.1 379.1) scale(0.9 1)" font-size="5.1" text-anchor="end">15</text>
<line x1="30.5" x2="268" y1="366.8" y2="366.8" stroke="#e4e4e4" stroke-width="1.1"/>
<text transform="translate(26.1 369) scale(0.9 1)" font-size="5.1" text-anchor="end">20</text>
<line x1="30.5" x2="268" y1="356.7" y2="356.7" stroke="#e4e4e4" stroke-width="1.1"/>
<text transform="translate(26.1 358.9) scale(0.9 1)" font-size="5.1" text-anchor="end">25</text>
<line x1="30.5" x2="268" y1="346.6" y2="346.6" stroke="#e4e4e4" stroke-width="1.1"/>
<text transform="translate(26.1 348.8) scale(0.9 1)" font-size="5.1" text-anchor="end">30</text>
<line x1="30.5" x2="268" y1="336.5" y2="336.5" stroke="#e4e4e4" stroke-width="1.1"/>
<text transform="translate(26.1 338.7) scale(0.9 1)" font-size="5.1" text-anchor="end">35</text>
<text transform="translate(18 372) rotate(-90)" font-size="5.1" text-anchor="middle" textLength="23.3" lengthAdjust="spacingAndGlyphs">Rain (mm)</text>
<text transform="translate(36.5 410.4) rotate(-90) scale(0.9 1)" font-size="4.9" text-anchor="end" style="stroke-width:0.28px">1-May-19</text>
<text transform="translate(44.17 410.4) rotate(-90) scale(0.9 1)" font-size="4.9" text-anchor="end" style="stroke-width:0.28px">2-May-19</text>
<text transform="translate(51.85 410.4) rotate(-90) scale(0.9 1)" font-size="4.9" text-anchor="end" style="stroke-width:0.28px">3-May-19</text>
<text transform="translate(59.52 410.4) rotate(-90) scale(0.9 1)" font-size="4.9" text-anchor="end" style="stroke-width:0.28px">4-May-19</text>
<text transform="translate(67.19 410.4) rotate(-90) scale(0.9 1)" font-size="4.9" text-anchor="end" style="stroke-width:0.28px">5-May-19</text>
<text transform="translate(74.87 410.4) rotate(-90) scale(0.9 1)" font-size="4.9" text-anchor="end" style="stroke-width:0.28px">6-May-19</text>
<text transform="translate(82.54 410.4) rotate(-90) scale(0.9 1)" font-size="4.9" text-anchor="end" style="stroke-width:0.28px">7-May-19</text>
<text transform="translate(90.21 410.4) rotate(-90) scale(0.9 1)" font-size="4.9" text-anchor="end" style="stroke-width:0.28px">8-May-19</text>
<text transform="translate(97.89 410.4) rotate(-90) scale(0.9 1)" font-size="4.9" text-anchor="end" style="stroke-width:0.28px">9-May-19</text>
<text transform="translate(105.56 410.4) rotate(-90) scale(0.9 1)" font-size="4.9" text-anchor="end" style="stroke-width:0.28px">10-May-19</text>
<text transform="translate(113.23 410.4) rotate(-90) scale(0.9 1)" font-size="4.9" text-anchor="end" style="stroke-width:0.28px">11-May-19</text>
<text transform="translate(120.91 410.4) rotate(-90) scale(0.9 1)" font-size="4.9" text-anchor="end" style="stroke-width:0.28px">12-May-19</text>
<text transform="translate(128.58 410.4) rotate(-90) scale(0.9 1)" font-size="4.9" text-anchor="end" style="stroke-width:0.28px">13-May-19</text>
<text transform="translate(136.25 410.4) rotate(-90) scale(0.9 1)" font-size="4.9" text-anchor="end" style="stroke-width:0.28px">14-May-19</text>
<text transform="translate(143.93 410.4) rotate(-90) scale(0.9 1)" font-size="4.9" text-anchor="end" style="stroke-width:0.28px">15-May-19</text>
<text transform="translate(151.6 410.4) rotate(-90) scale(0.9 1)" font-size="4.9" text-anchor="end" style="stroke-width:0.28px">16-May-19</text>
<text transform="translate(159.27 410.4) rotate(-90) scale(0.9 1)" font-size="4.9" text-anchor="end" style="stroke-width:0.28px">17-May-19</text>
<text transform="translate(166.95 410.4) rotate(-90) scale(0.9 1)" font-size="4.9" text-anchor="end" style="stroke-width:0.28px">18-May-19</text>
<text transform="translate(174.62 410.4) rotate(-90) scale(0.9 1)" font-size="4.9" text-anchor="end" style="stroke-width:0.28px">19-May-19</text>
<text transform="translate(182.29 410.4) rotate(-90) scale(0.9 1)" font-size="4.9" text-anchor="end" style="stroke-width:0.28px">20-May-19</text>
<text transform="translate(189.97 410.4) rotate(-90) scale(0.9 1)" font-size="4.9" text-anchor="end" style="stroke-width:0.28px">21-May-19</text>
<text transform="translate(197.64 410.4) rotate(-90) scale(0.9 1)" font-size="4.9" text-anchor="end" style="stroke-width:0.28px">22-May-19</text>
<text transform="translate(205.31 410.4) rotate(-90) scale(0.9 1)" font-size="4.9" text-anchor="end" style="stroke-width:0.28px">23-May-19</text>
<text transform="translate(212.99 410.4) rotate(-90) scale(0.9 1)" font-size="4.9" text-anchor="end" style="stroke-width:0.28px">24-May-19</text>
<text transform="translate(220.66 410.4) rotate(-90) scale(0.9 1)" font-size="4.9" text-anchor="end" style="stroke-width:0.28px">25-May-19</text>
<text transform="translate(228.33 410.4) rotate(-90) scale(0.9 1)" font-size="4.9" text-anchor="end" style="stroke-width:0.28px">26-May-19</text>
<text transform="translate(236.01 410.4) rotate(-90) scale(0.9 1)" font-size="4.9" text-anchor="end" style="stroke-width:0.28px">27-May-19</text>
<text transform="translate(243.68 410.4) rotate(-90) scale(0.9 1)" font-size="4.9" text-anchor="end" style="stroke-width:0.28px">28-May-19</text>
<text transform="translate(251.35 410.4) rotate(-90) scale(0.9 1)" font-size="4.9" text-anchor="end" style="stroke-width:0.28px">29-May-19</text>
<text transform="translate(259.03 410.4) rotate(-90) scale(0.9 1)" font-size="4.9" text-anchor="end" style="stroke-width:0.28px">30-May-19</text>
<text transform="translate(266.7 410.4) rotate(-90) scale(0.9 1)" font-size="4.9" text-anchor="end" style="stroke-width:0.28px">31-May-19</text>
<text transform="translate(150 439.9) scale(0.92 1)" font-size="5.1" text-anchor="middle">Day</text>
<polyline points="34.2,394.47 41.87,386.8 49.55,403.56 57.22,407.2 64.89,407.2 72.57,407.2 80.24,407.2 87.91,407.2 95.59,407.2 103.26,407.2 110.93,405.99 118.61,387 126.28,407.2 133.95,407.2 141.63,407.2 149.3,403.36 156.97,407.2 164.65,407.2 172.32,407.2 179.99,403.56 187.67,345.39 195.34,407.2 203.01,402.76 210.69,382.35 218.36,403.97 226.03,406.8 233.71,407.2 241.38,400.74 249.05,405.48 256.73,379.93 264.4,405.18" fill="none" stroke="#1b6690" stroke-width="1.4" stroke-linejoin="round" stroke-linecap="round"/>
<g fill="#1b6690"><circle cx="34.2" cy="394.47" r="1.65"/><circle cx="41.87" cy="386.8" r="1.65"/><circle cx="49.55" cy="403.56" r="1.65"/><circle cx="57.22" cy="407.2" r="1.65"/><circle cx="64.89" cy="407.2" r="1.65"/><circle cx="72.57" cy="407.2" r="1.65"/><circle cx="80.24" cy="407.2" r="1.65"/><circle cx="87.91" cy="407.2" r="1.65"/><circle cx="95.59" cy="407.2" r="1.65"/><circle cx="103.26" cy="407.2" r="1.65"/><circle cx="110.93" cy="405.99" r="1.65"/><circle cx="118.61" cy="387" r="1.65"/><circle cx="126.28" cy="407.2" r="1.65"/><circle cx="133.95" cy="407.2" r="1.65"/><circle cx="141.63" cy="407.2" r="1.65"/><circle cx="149.3" cy="403.36" r="1.65"/><circle cx="156.97" cy="407.2" r="1.65"/><circle cx="164.65" cy="407.2" r="1.65"/><circle cx="172.32" cy="407.2" r="1.65"/><circle cx="179.99" cy="403.56" r="1.65"/><circle cx="187.67" cy="345.39" r="1.65"/><circle cx="195.34" cy="407.2" r="1.65"/><circle cx="203.01" cy="402.76" r="1.65"/><circle cx="210.69" cy="382.35" r="1.65"/><circle cx="218.36" cy="403.97" r="1.65"/><circle cx="226.03" cy="406.8" r="1.65"/><circle cx="233.71" cy="407.2" r="1.65"/><circle cx="241.38" cy="400.74" r="1.65"/><circle cx="249.05" cy="405.48" r="1.65"/><circle cx="256.73" cy="379.93" r="1.65"/><circle cx="264.4" cy="405.18" r="1.65"/></g>
<polyline points="34.2,395.48 41.87,355.69 49.55,407.2 57.22,398.31 64.89,399.93 72.57,407.2 80.24,407.2 87.91,398.11 95.59,407.2 103.26,405.48 110.93,407.2 118.61,407.2 126.28,400.74 133.95,407.2 141.63,407.2 149.3,403.97 156.97,407.2 164.65,407.2 172.32,401.34 179.99,403.56 187.67,347 195.34,396.7 203.01,407.2 210.69,370.23 218.36,390.43 226.03,407.2 233.71,388.62 241.38,407.2 249.05,398.62 256.73,393.06 264.4,391.44" fill="none" stroke="#f96a13" stroke-width="1.4" stroke-linejoin="round" stroke-linecap="round"/>
<g fill="#f96a13"><circle cx="34.2" cy="395.48" r="1.65"/><circle cx="41.87" cy="355.69" r="1.65"/><circle cx="49.55" cy="407.2" r="1.65"/><circle cx="57.22" cy="398.31" r="1.65"/><circle cx="64.89" cy="399.93" r="1.65"/><circle cx="72.57" cy="407.2" r="1.65"/><circle cx="80.24" cy="407.2" r="1.65"/><circle cx="87.91" cy="398.11" r="1.65"/><circle cx="95.59" cy="407.2" r="1.65"/><circle cx="103.26" cy="405.48" r="1.65"/><circle cx="110.93" cy="407.2" r="1.65"/><circle cx="118.61" cy="407.2" r="1.65"/><circle cx="126.28" cy="400.74" r="1.65"/><circle cx="133.95" cy="407.2" r="1.65"/><circle cx="141.63" cy="407.2" r="1.65"/><circle cx="149.3" cy="403.97" r="1.65"/><circle cx="156.97" cy="407.2" r="1.65"/><circle cx="164.65" cy="407.2" r="1.65"/><circle cx="172.32" cy="401.34" r="1.65"/><circle cx="179.99" cy="403.56" r="1.65"/><circle cx="187.67" cy="347" r="1.65"/><circle cx="195.34" cy="396.7" r="1.65"/><circle cx="203.01" cy="407.2" r="1.65"/><circle cx="210.69" cy="370.23" r="1.65"/><circle cx="218.36" cy="390.43" r="1.65"/><circle cx="226.03" cy="407.2" r="1.65"/><circle cx="233.71" cy="388.62" r="1.65"/><circle cx="241.38" cy="407.2" r="1.65"/><circle cx="249.05" cy="398.62" r="1.65"/><circle cx="256.73" cy="393.06" r="1.65"/><circle cx="264.4" cy="391.44" r="1.65"/></g>
<line x1="109" x2="120.5" y1="452.6" y2="452.6" stroke="#1b6690" stroke-width="1.4"/><circle cx="114.75" cy="452.6" r="1.65" fill="#1b6690"/>
<text x="120.6" y="454.3" font-size="5.1" textLength="13.8" lengthAdjust="spacingAndGlyphs">Actual</text>
<line x1="140" x2="151.5" y1="452.6" y2="452.6" stroke="#f96a13" stroke-width="1.4"/><circle cx="145.75" cy="452.6" r="1.65" fill="#f96a13"/>
<text x="152" y="454.3" font-size="5.1" textLength="20.4" lengthAdjust="spacingAndGlyphs">Predicted</text>
</g>
<g>
<line x1="280.3" x2="280.3" y1="312.7" y2="460" stroke="#acacac" stroke-width="0.9"/>
<line x1="279.9" x2="546.1" y1="313.1" y2="313.1" stroke="#868686" stroke-width="0.9"/>
<line x1="545.7" x2="545.7" y1="312.7" y2="460" stroke="#6d6d6d" stroke-width="1.0"/>
<line x1="279.9" x2="546.1" y1="459.6" y2="459.6" stroke="#898989" stroke-width="0.9"/>
<text x="412.9" y="327.4" font-size="10.0" text-anchor="middle" textLength="20.5" lengthAdjust="spacingAndGlyphs" style="fill:#000;stroke:#000;stroke-width:0.35px">June</text>
<line x1="304.5" x2="539.4" y1="408.5" y2="408.5" stroke="#e4e4e4" stroke-width="1.1"/>
<text transform="translate(300.4 410.7) scale(0.9 1)" font-size="5.1" text-anchor="end">0</text>
<line x1="304.5" x2="539.4" y1="396.63" y2="396.63" stroke="#e4e4e4" stroke-width="1.1"/>
<text transform="translate(300.4 398.83) scale(0.9 1)" font-size="5.1" text-anchor="end">10</text>
<line x1="304.5" x2="539.4" y1="384.77" y2="384.77" stroke="#e4e4e4" stroke-width="1.1"/>
<text transform="translate(300.4 386.97) scale(0.9 1)" font-size="5.1" text-anchor="end">20</text>
<line x1="304.5" x2="539.4" y1="372.9" y2="372.9" stroke="#e4e4e4" stroke-width="1.1"/>
<text transform="translate(300.4 375.1) scale(0.9 1)" font-size="5.1" text-anchor="end">30</text>
<line x1="304.5" x2="539.4" y1="361.03" y2="361.03" stroke="#e4e4e4" stroke-width="1.1"/>
<text transform="translate(300.4 363.23) scale(0.9 1)" font-size="5.1" text-anchor="end">40</text>
<line x1="304.5" x2="539.4" y1="349.17" y2="349.17" stroke="#e4e4e4" stroke-width="1.1"/>
<text transform="translate(300.4 351.37) scale(0.9 1)" font-size="5.1" text-anchor="end">50</text>
<line x1="304.5" x2="539.4" y1="337.3" y2="337.3" stroke="#e4e4e4" stroke-width="1.1"/>
<text transform="translate(300.4 339.5) scale(0.9 1)" font-size="5.1" text-anchor="end">60</text>
<text transform="translate(292.7 373) rotate(-90)" font-size="5.1" text-anchor="middle" textLength="22.6" lengthAdjust="spacingAndGlyphs">Rain (mm)</text>
<text transform="translate(311.3 412) rotate(-90) scale(0.85 1)" font-size="4.9" text-anchor="end" style="stroke-width:0.28px">1-Jun-19</text>
<text transform="translate(319.12 412) rotate(-90) scale(0.85 1)" font-size="4.9" text-anchor="end" style="stroke-width:0.28px">2-Jun-19</text>
<text transform="translate(326.95 412) rotate(-90) scale(0.85 1)" font-size="4.9" text-anchor="end" style="stroke-width:0.28px">3-Jun-19</text>
<text transform="translate(334.77 412) rotate(-90) scale(0.85 1)" font-size="4.9" text-anchor="end" style="stroke-width:0.28px">4-Jun-19</text>
<text transform="translate(342.6 412) rotate(-90) scale(0.85 1)" font-size="4.9" text-anchor="end" style="stroke-width:0.28px">5-Jun-19</text>
<text transform="translate(350.42 412) rotate(-90) scale(0.85 1)" font-size="4.9" text-anchor="end" style="stroke-width:0.28px">6-Jun-19</text>
<text transform="translate(358.24 412) rotate(-90) scale(0.85 1)" font-size="4.9" text-anchor="end" style="stroke-width:0.28px">7-Jun-19</text>
<text transform="translate(366.07 412) rotate(-90) scale(0.85 1)" font-size="4.9" text-anchor="end" style="stroke-width:0.28px">8-Jun-19</text>
<text transform="translate(373.89 412) rotate(-90) scale(0.85 1)" font-size="4.9" text-anchor="end" style="stroke-width:0.28px">9-Jun-19</text>
<text transform="translate(381.72 412) rotate(-90) scale(0.85 1)" font-size="4.9" text-anchor="end" style="stroke-width:0.28px">10-Jun-19</text>
<text transform="translate(389.54 412) rotate(-90) scale(0.85 1)" font-size="4.9" text-anchor="end" style="stroke-width:0.28px">11-Jun-19</text>
<text transform="translate(397.37 412) rotate(-90) scale(0.85 1)" font-size="4.9" text-anchor="end" style="stroke-width:0.28px">12-Jun-19</text>
<text transform="translate(405.19 412) rotate(-90) scale(0.85 1)" font-size="4.9" text-anchor="end" style="stroke-width:0.28px">13-Jun-19</text>
<text transform="translate(413.01 412) rotate(-90) scale(0.85 1)" font-size="4.9" text-anchor="end" style="stroke-width:0.28px">14-Jun-19</text>
<text transform="translate(420.84 412) rotate(-90) scale(0.85 1)" font-size="4.9" text-anchor="end" style="stroke-width:0.28px">15-Jun-19</text>
<text transform="translate(428.66 412) rotate(-90) scale(0.85 1)" font-size="4.9" text-anchor="end" style="stroke-width:0.28px">16-Jun-19</text>
<text transform="translate(436.49 412) rotate(-90) scale(0.85 1)" font-size="4.9" text-anchor="end" style="stroke-width:0.28px">17-Jun-19</text>
<text transform="translate(444.31 412) rotate(-90) scale(0.85 1)" font-size="4.9" text-anchor="end" style="stroke-width:0.28px">18-Jun-19</text>
<text transform="translate(452.13 412) rotate(-90) scale(0.85 1)" font-size="4.9" text-anchor="end" style="stroke-width:0.28px">19-Jun-19</text>
<text transform="translate(459.96 412) rotate(-90) scale(0.85 1)" font-size="4.9" text-anchor="end" style="stroke-width:0.28px">20-Jun-19</text>
<text transform="translate(467.78 412) rotate(-90) scale(0.85 1)" font-size="4.9" text-anchor="end" style="stroke-width:0.28px">21-Jun-19</text>
<text transform="translate(475.61 412) rotate(-90) scale(0.85 1)" font-size="4.9" text-anchor="end" style="stroke-width:0.28px">22-Jun-19</text>
<text transform="translate(483.43 412) rotate(-90) scale(0.85 1)" font-size="4.9" text-anchor="end" style="stroke-width:0.28px">23-Jun-19</text>
<text transform="translate(491.26 412) rotate(-90) scale(0.85 1)" font-size="4.9" text-anchor="end" style="stroke-width:0.28px">24-Jun-19</text>
<text transform="translate(499.08 412) rotate(-90) scale(0.85 1)" font-size="4.9" text-anchor="end" style="stroke-width:0.28px">25-Jun-19</text>
<text transform="translate(506.9 412) rotate(-90) scale(0.85 1)" font-size="4.9" text-anchor="end" style="stroke-width:0.28px">26-Jun-19</text>
<text transform="translate(514.73 412) rotate(-90) scale(0.85 1)" font-size="4.9" text-anchor="end" style="stroke-width:0.28px">27-Jun-19</text>
<text transform="translate(522.55 412) rotate(-90) scale(0.85 1)" font-size="4.9" text-anchor="end" style="stroke-width:0.28px">28-Jun-19</text>
<text transform="translate(530.38 412) rotate(-90) scale(0.85 1)" font-size="4.9" text-anchor="end" style="stroke-width:0.28px">29-Jun-19</text>
<text transform="translate(538.2 412) rotate(-90) scale(0.85 1)" font-size="4.9" text-anchor="end" style="stroke-width:0.28px">30-Jun-19</text>
<text transform="translate(422.8 439.3) scale(0.92 1)" font-size="5.1" text-anchor="middle">Day</text>
<polyline points="309,407.31 316.82,393.55 324.65,382.51 332.47,380.02 340.3,403.63 348.12,392.24 355.94,353.2 363.77,405.53 371.59,343.23 379.42,395.21 387.24,373.14 395.07,392.01 402.89,406.01 410.71,370.88 418.54,408.03 426.36,396.51 434.19,405.53 442.01,407.55 449.83,389.39 457.66,371.95 465.48,368.03 473.31,392.01 481.13,408.5 488.96,391.06 496.78,407.79 504.6,408.5 512.43,408.5 520.25,408.5 528.08,408.5 535.9,408.5" fill="none" stroke="#1b6690" stroke-width="1.4" stroke-linejoin="round" stroke-linecap="round"/>
<g fill="#1b6690"><circle cx="309" cy="407.31" r="1.65"/><circle cx="316.82" cy="393.55" r="1.65"/><circle cx="324.65" cy="382.51" r="1.65"/><circle cx="332.47" cy="380.02" r="1.65"/><circle cx="340.3" cy="403.63" r="1.65"/><circle cx="348.12" cy="392.24" r="1.65"/><circle cx="355.94" cy="353.2" r="1.65"/><circle cx="363.77" cy="405.53" r="1.65"/><circle cx="371.59" cy="343.23" r="1.65"/><circle cx="379.42" cy="395.21" r="1.65"/><circle cx="387.24" cy="373.14" r="1.65"/><circle cx="395.07" cy="392.01" r="1.65"/><circle cx="402.89" cy="406.01" r="1.65"/><circle cx="410.71" cy="370.88" r="1.65"/><circle cx="418.54" cy="408.03" r="1.65"/><circle cx="426.36" cy="396.51" r="1.65"/><circle cx="434.19" cy="405.53" r="1.65"/><circle cx="442.01" cy="407.55" r="1.65"/><circle cx="449.83" cy="389.39" r="1.65"/><circle cx="457.66" cy="371.95" r="1.65"/><circle cx="465.48" cy="368.03" r="1.65"/><circle cx="473.31" cy="392.01" r="1.65"/><circle cx="481.13" cy="408.5" r="1.65"/><circle cx="488.96" cy="391.06" r="1.65"/><circle cx="496.78" cy="407.79" r="1.65"/><circle cx="504.6" cy="408.5" r="1.65"/><circle cx="512.43" cy="408.5" r="1.65"/><circle cx="520.25" cy="408.5" r="1.65"/><circle cx="528.08" cy="408.5" r="1.65"/><circle cx="535.9" cy="408.5" r="1.65"/></g>
<polyline points="309,408.5 316.82,391.29 324.65,375.15 332.47,383.46 340.3,384.89 348.12,393.79 355.94,375.39 363.77,391.29 371.59,361.15 379.42,382.04 387.24,377.05 395.07,380.02 402.89,388.8 410.71,362.1 418.54,407.79 426.36,402.8 434.19,404.11 442.01,403.63 449.83,397.94 457.66,363.05 465.48,368.51 473.31,397.46 481.13,404.11 488.96,398.41 496.78,404.35 504.6,408.5 512.43,408.5 520.25,403.4 528.08,405.53 535.9,408.5" fill="none" stroke="#f96a13" stroke-width="1.4" stroke-linejoin="round" stroke-linecap="round"/>
<g fill="#f96a13"><circle cx="309" cy="408.5" r="1.65"/><circle cx="316.82" cy="391.29" r="1.65"/><circle cx="324.65" cy="375.15" r="1.65"/><circle cx="332.47" cy="383.46" r="1.65"/><circle cx="340.3" cy="384.89" r="1.65"/><circle cx="348.12" cy="393.79" r="1.65"/><circle cx="355.94" cy="375.39" r="1.65"/><circle cx="363.77" cy="391.29" r="1.65"/><circle cx="371.59" cy="361.15" r="1.65"/><circle cx="379.42" cy="382.04" r="1.65"/><circle cx="387.24" cy="377.05" r="1.65"/><circle cx="395.07" cy="380.02" r="1.65"/><circle cx="402.89" cy="388.8" r="1.65"/><circle cx="410.71" cy="362.1" r="1.65"/><circle cx="418.54" cy="407.79" r="1.65"/><circle cx="426.36" cy="402.8" r="1.65"/><circle cx="434.19" cy="404.11" r="1.65"/><circle cx="442.01" cy="403.63" r="1.65"/><circle cx="449.83" cy="397.94" r="1.65"/><circle cx="457.66" cy="363.05" r="1.65"/><circle cx="465.48" cy="368.51" r="1.65"/><circle cx="473.31" cy="397.46" r="1.65"/><circle cx="481.13" cy="404.11" r="1.65"/><circle cx="488.96" cy="398.41" r="1.65"/><circle cx="496.78" cy="404.35" r="1.65"/><circle cx="504.6" cy="408.5" r="1.65"/><circle cx="512.43" cy="408.5" r="1.65"/><circle cx="520.25" cy="403.4" r="1.65"/><circle cx="528.08" cy="405.53" r="1.65"/><circle cx="535.9" cy="408.5" r="1.65"/></g>
<line x1="382.6" x2="393.9" y1="451.6" y2="451.6" stroke="#1b6690" stroke-width="1.4"/><circle cx="388.25" cy="451.6" r="1.65" fill="#1b6690"/>
<text x="394.2" y="453.3" font-size="5.1" textLength="13.2" lengthAdjust="spacingAndGlyphs">Actual</text>
<line x1="413" x2="424.5" y1="451.6" y2="451.6" stroke="#f96a13" stroke-width="1.4"/><circle cx="418.75" cy="451.6" r="1.65" fill="#f96a13"/>
<text x="425" y="453.3" font-size="5.1" textLength="20" lengthAdjust="spacingAndGlyphs">Predicted</text>
</g>
<g>
<line x1="5.6" x2="5.6" y1="460.7" y2="610.1" stroke="#7a7a7a" stroke-width="0.9"/>
<line x1="5.2" x2="275" y1="461.1" y2="461.1" stroke="#3d3d3d" stroke-width="1.3"/>
<line x1="274.6" x2="274.6" y1="460.7" y2="610.1" stroke="#565656" stroke-width="1.0"/>
<line x1="5.2" x2="275" y1="609.7" y2="609.7" stroke="#6b6b6b" stroke-width="1.2"/>
<text x="140" y="476" font-size="10.0" text-anchor="middle" textLength="17.4" lengthAdjust="spacingAndGlyphs" style="fill:#000;stroke:#000;stroke-width:0.35px">July</text>
<line x1="30.5" x2="268" y1="559.4" y2="559.4" stroke="#e4e4e4" stroke-width="1.1"/>
<text transform="translate(26.1 561.6) scale(0.9 1)" font-size="5.1" text-anchor="end">0</text>
<line x1="30.5" x2="268" y1="550.23" y2="550.23" stroke="#e4e4e4" stroke-width="1.1"/>
<text transform="translate(26.1 552.43) scale(0.9 1)" font-size="5.1" text-anchor="end">10</text>
<line x1="30.5" x2="268" y1="541.05" y2="541.05" stroke="#e4e4e4" stroke-width="1.1"/>
<text transform="translate(26.1 543.25) scale(0.9 1)" font-size="5.1" text-anchor="end">20</text>
<line x1="30.5" x2="268" y1="531.88" y2="531.88" stroke="#e4e4e4" stroke-width="1.1"/>
<text transform="translate(26.1 534.08) scale(0.9 1)" font-size="5.1" text-anchor="end">30</text>
<line x1="30.5" x2="268" y1="522.7" y2="522.7" stroke="#e4e4e4" stroke-width="1.1"/>
<text transform="translate(26.1 524.9) scale(0.9 1)" font-size="5.1" text-anchor="end">40</text>
<line x1="30.5" x2="268" y1="513.52" y2="513.52" stroke="#e4e4e4" stroke-width="1.1"/>
<text transform="translate(26.1 515.73) scale(0.9 1)" font-size="5.1" text-anchor="end">50</text>
<line x1="30.5" x2="268" y1="504.35" y2="504.35" stroke="#e4e4e4" stroke-width="1.1"/>
<text transform="translate(26.1 506.55) scale(0.9 1)" font-size="5.1" text-anchor="end">60</text>
<line x1="30.5" x2="268" y1="495.18" y2="495.18" stroke="#e4e4e4" stroke-width="1.1"/>
<text transform="translate(26.1 497.38) scale(0.9 1)" font-size="5.1" text-anchor="end">70</text>
<line x1="30.5" x2="268" y1="486" y2="486" stroke="#e4e4e4" stroke-width="1.1"/>
<text transform="translate(26.1 488.2) scale(0.9 1)" font-size="5.1" text-anchor="end">80</text>
<text transform="translate(18 523) rotate(-90)" font-size="5.1" text-anchor="middle" textLength="23.3" lengthAdjust="spacingAndGlyphs">Rain (mm)</text>
<text transform="translate(36.5 562) rotate(-90) scale(0.88 1)" font-size="4.9" text-anchor="end" style="stroke-width:0.28px">1-Jul-19</text>
<text transform="translate(44.17 562) rotate(-90) scale(0.88 1)" font-size="4.9" text-anchor="end" style="stroke-width:0.28px">2-Jul-19</text>
<text transform="translate(51.85 562) rotate(-90) scale(0.88 1)" font-size="4.9" text-anchor="end" style="stroke-width:0.28px">3-Jul-19</text>
<text transform="translate(59.52 562) rotate(-90) scale(0.88 1)" font-size="4.9" text-anchor="end" style="stroke-width:0.28px">4-Jul-19</text>
<text transform="translate(67.19 562) rotate(-90) scale(0.88 1)" font-size="4.9" text-anchor="end" style="stroke-width:0.28px">5-Jul-19</text>
<text transform="translate(74.87 562) rotate(-90) scale(0.88 1)" font-size="4.9" text-anchor="end" style="stroke-width:0.28px">6-Jul-19</text>
<text transform="translate(82.54 562) rotate(-90) scale(0.88 1)" font-size="4.9" text-anchor="end" style="stroke-width:0.28px">7-Jul-19</text>
<text transform="translate(90.21 562) rotate(-90) scale(0.88 1)" font-size="4.9" text-anchor="end" style="stroke-width:0.28px">8-Jul-19</text>
<text transform="translate(97.89 562) rotate(-90) scale(0.88 1)" font-size="4.9" text-anchor="end" style="stroke-width:0.28px">9-Jul-19</text>
<text transform="translate(105.56 562) rotate(-90) scale(0.88 1)" font-size="4.9" text-anchor="end" style="stroke-width:0.28px">10-Jul-19</text>
<text transform="translate(113.23 562) rotate(-90) scale(0.88 1)" font-size="4.9" text-anchor="end" style="stroke-width:0.28px">11-Jul-19</text>
<text transform="translate(120.91 562) rotate(-90) scale(0.88 1)" font-size="4.9" text-anchor="end" style="stroke-width:0.28px">12-Jul-19</text>
<text transform="translate(128.58 562) rotate(-90) scale(0.88 1)" font-size="4.9" text-anchor="end" style="stroke-width:0.28px">13-Jul-19</text>
<text transform="translate(136.25 562) rotate(-90) scale(0.88 1)" font-size="4.9" text-anchor="end" style="stroke-width:0.28px">14-Jul-19</text>
<text transform="translate(143.93 562) rotate(-90) scale(0.88 1)" font-size="4.9" text-anchor="end" style="stroke-width:0.28px">15-Jul-19</text>
<text transform="translate(151.6 562) rotate(-90) scale(0.88 1)" font-size="4.9" text-anchor="end" style="stroke-width:0.28px">16-Jul-19</text>
<text transform="translate(159.27 562) rotate(-90) scale(0.88 1)" font-size="4.9" text-anchor="end" style="stroke-width:0.28px">17-Jul-19</text>
<text transform="translate(166.95 562) rotate(-90) scale(0.88 1)" font-size="4.9" text-anchor="end" style="stroke-width:0.28px">18-Jul-19</text>
<text transform="translate(174.62 562) rotate(-90) scale(0.88 1)" font-size="4.9" text-anchor="end" style="stroke-width:0.28px">19-Jul-19</text>
<text transform="translate(182.29 562) rotate(-90) scale(0.88 1)" font-size="4.9" text-anchor="end" style="stroke-width:0.28px">20-Jul-19</text>
<text transform="translate(189.97 562) rotate(-90) scale(0.88 1)" font-size="4.9" text-anchor="end" style="stroke-width:0.28px">21-Jul-19</text>
<text transform="translate(197.64 562) rotate(-90) scale(0.88 1)" font-size="4.9" text-anchor="end" style="stroke-width:0.28px">22-Jul-19</text>
<text transform="translate(205.31 562) rotate(-90) scale(0.88 1)" font-size="4.9" text-anchor="end" style="stroke-width:0.28px">23-Jul-19</text>
<text transform="translate(212.99 562) rotate(-90) scale(0.88 1)" font-size="4.9" text-anchor="end" style="stroke-width:0.28px">24-Jul-19</text>
<text transform="translate(220.66 562) rotate(-90) scale(0.88 1)" font-size="4.9" text-anchor="end" style="stroke-width:0.28px">25-Jul-19</text>
<text transform="translate(228.33 562) rotate(-90) scale(0.88 1)" font-size="4.9" text-anchor="end" style="stroke-width:0.28px">26-Jul-19</text>
<text transform="translate(236.01 562) rotate(-90) scale(0.88 1)" font-size="4.9" text-anchor="end" style="stroke-width:0.28px">27-Jul-19</text>
<text transform="translate(243.68 562) rotate(-90) scale(0.88 1)" font-size="4.9" text-anchor="end" style="stroke-width:0.28px">28-Jul-19</text>
<text transform="translate(251.35 562) rotate(-90) scale(0.88 1)" font-size="4.9" text-anchor="end" style="stroke-width:0.28px">29-Jul-19</text>
<text transform="translate(259.03 562) rotate(-90) scale(0.88 1)" font-size="4.9" text-anchor="end" style="stroke-width:0.28px">30-Jul-19</text>
<text transform="translate(266.7 562) rotate(-90) scale(0.88 1)" font-size="4.9" text-anchor="end" style="stroke-width:0.28px">31-Jul-19</text>
<text transform="translate(149.8 588.9) scale(0.92 1)" font-size="5.1" text-anchor="middle">Day</text>
<polyline points="34.2,559.4 41.87,559.4 49.55,559.4 57.22,559.4 64.89,559.4 72.57,559.4 80.24,559.12 87.91,559.4 95.59,535.82 103.26,559.4 110.93,558.94 118.61,553.25 126.28,539.49 133.95,551.33 141.63,555.45 149.3,548.57 156.97,535.09 164.65,491.14 172.32,537.56 179.99,559.4 187.67,547.11 195.34,558.48 203.01,559.4 210.69,559.4 218.36,553.99 226.03,559.4 233.71,559.4 241.38,559.4 249.05,559.4 256.73,559.4 264.4,559.4" fill="none" stroke="#1b6690" stroke-width="1.4" stroke-linejoin="round" stroke-linecap="round"/>
<g fill="#1b6690"><circle cx="34.2" cy="559.4" r="1.65"/><circle cx="41.87" cy="559.4" r="1.65"/><circle cx="49.55" cy="559.4" r="1.65"/><circle cx="57.22" cy="559.4" r="1.65"/><circle cx="64.89" cy="559.4" r="1.65"/><circle cx="72.57" cy="559.4" r="1.65"/><circle cx="80.24" cy="559.12" r="1.65"/><circle cx="87.91" cy="559.4" r="1.65"/><circle cx="95.59" cy="535.82" r="1.65"/><circle cx="103.26" cy="559.4" r="1.65"/><circle cx="110.93" cy="558.94" r="1.65"/><circle cx="118.61" cy="553.25" r="1.65"/><circle cx="126.28" cy="539.49" r="1.65"/><circle cx="133.95" cy="551.33" r="1.65"/><circle cx="141.63" cy="555.45" r="1.65"/><circle cx="149.3" cy="548.57" r="1.65"/><circle cx="156.97" cy="535.09" r="1.65"/><circle cx="164.65" cy="491.14" r="1.65"/><circle cx="172.32" cy="537.56" r="1.65"/><circle cx="179.99" cy="559.4" r="1.65"/><circle cx="187.67" cy="547.11" r="1.65"/><circle cx="195.34" cy="558.48" r="1.65"/><circle cx="203.01" cy="559.4" r="1.65"/><circle cx="210.69" cy="559.4" r="1.65"/><circle cx="218.36" cy="553.99" r="1.65"/><circle cx="226.03" cy="559.4" r="1.65"/><circle cx="233.71" cy="559.4" r="1.65"/><circle cx="241.38" cy="559.4" r="1.65"/><circle cx="249.05" cy="559.4" r="1.65"/><circle cx="256.73" cy="559.4" r="1.65"/><circle cx="264.4" cy="559.4" r="1.65"/></g>
<polyline points="34.2,551.51 41.87,558.48 49.55,559.4 57.22,555.73 64.89,559.4 72.57,556.01 80.24,558.21 87.91,559.4 95.59,527.29 103.26,559.4 110.93,558.67 118.61,556.92 126.28,547.38 133.95,547.84 141.63,544.44 149.3,552.52 156.97,547.38 164.65,492.15 172.32,546.37 179.99,550.59 187.67,553.71 195.34,557.47 203.01,554.45 210.69,557.47 218.36,554.45 226.03,554.72 233.71,555 241.38,559.4 249.05,558.48 256.73,558.67 264.4,555.73" fill="none" stroke="#f96a13" stroke-width="1.4" stroke-linejoin="round" stroke-linecap="round"/>
<g fill="#f96a13"><circle cx="34.2" cy="551.51" r="1.65"/><circle cx="41.87" cy="558.48" r="1.65"/><circle cx="49.55" cy="559.4" r="1.65"/><circle cx="57.22" cy="555.73" r="1.65"/><circle cx="64.89" cy="559.4" r="1.65"/><circle cx="72.57" cy="556.01" r="1.65"/><circle cx="80.24" cy="558.21" r="1.65"/><circle cx="87.91" cy="559.4" r="1.65"/><circle cx="95.59" cy="527.29" r="1.65"/><circle cx="103.26" cy="559.4" r="1.65"/><circle cx="110.93" cy="558.67" r="1.65"/><circle cx="118.61" cy="556.92" r="1.65"/><circle cx="126.28" cy="547.38" r="1.65"/><circle cx="133.95" cy="547.84" r="1.65"/><circle cx="141.63" cy="544.44" r="1.65"/><circle cx="149.3" cy="552.52" r="1.65"/><circle cx="156.97" cy="547.38" r="1.65"/><circle cx="164.65" cy="492.15" r="1.65"/><circle cx="172.32" cy="546.37" r="1.65"/><circle cx="179.99" cy="550.59" r="1.65"/><circle cx="187.67" cy="553.71" r="1.65"/><circle cx="195.34" cy="557.47" r="1.65"/><circle cx="203.01" cy="554.45" r="1.65"/><circle cx="210.69" cy="557.47" r="1.65"/><circle cx="218.36" cy="554.45" r="1.65"/><circle cx="226.03" cy="554.72" r="1.65"/><circle cx="233.71" cy="555" r="1.65"/><circle cx="241.38" cy="559.4" r="1.65"/><circle cx="249.05" cy="558.48" r="1.65"/><circle cx="256.73" cy="558.67" r="1.65"/><circle cx="264.4" cy="555.73" r="1.65"/></g>
<line x1="109" x2="120.5" y1="602" y2="602" stroke="#1b6690" stroke-width="1.4"/><circle cx="114.75" cy="602" r="1.65" fill="#1b6690"/>
<text x="121" y="603.7" font-size="5.1" textLength="13.4" lengthAdjust="spacingAndGlyphs">Actual</text>
<line x1="140" x2="151.1" y1="602" y2="602" stroke="#f96a13" stroke-width="1.4"/><circle cx="145.55" cy="602" r="1.65" fill="#f96a13"/>
<text x="152" y="603.7" font-size="5.1" textLength="20.4" lengthAdjust="spacingAndGlyphs">Predicted</text>
</g>
<g>
<line x1="279.4" x2="279.4" y1="461.7" y2="608.8" stroke="#6b6b6b" stroke-width="1.0"/>
<line x1="279" x2="547.1" y1="462.1" y2="462.1" stroke="#737373" stroke-width="1.0"/>
<line x1="546.7" x2="546.7" y1="461.7" y2="608.8" stroke="#6b6b6b" stroke-width="1.0"/>
<line x1="279" x2="547.1" y1="608.4" y2="608.4" stroke="#6b6b6b" stroke-width="1.1"/>
<text x="413.25" y="477.1" font-size="10.0" text-anchor="middle" textLength="30.6" lengthAdjust="spacingAndGlyphs" style="fill:#000;stroke:#000;stroke-width:0.35px">August</text>
<line x1="307.7" x2="540" y1="557" y2="557" stroke="#e4e4e4" stroke-width="1.1"/>
<text transform="translate(303.3 559.2) scale(0.9 1)" font-size="5.1" text-anchor="end">0</text>
<line x1="307.7" x2="540" y1="542.96" y2="542.96" stroke="#e4e4e4" stroke-width="1.1"/>
<text transform="translate(303.3 545.16) scale(0.9 1)" font-size="5.1" text-anchor="end">50</text>
<line x1="307.7" x2="540" y1="528.92" y2="528.92" stroke="#e4e4e4" stroke-width="1.1"/>
<text transform="translate(303.3 531.12) scale(0.9 1)" font-size="5.1" text-anchor="end">100</text>
<line x1="307.7" x2="540" y1="514.88" y2="514.88" stroke="#e4e4e4" stroke-width="1.1"/>
<text transform="translate(303.3 517.08) scale(0.9 1)" font-size="5.1" text-anchor="end">150</text>
<line x1="307.7" x2="540" y1="500.84" y2="500.84" stroke="#e4e4e4" stroke-width="1.1"/>
<text transform="translate(303.3 503.04) scale(0.9 1)" font-size="5.1" text-anchor="end">200</text>
<line x1="307.7" x2="540" y1="486.8" y2="486.8" stroke="#e4e4e4" stroke-width="1.1"/>
<text transform="translate(303.3 489) scale(0.9 1)" font-size="5.1" text-anchor="end">250</text>
<text transform="translate(292.3 521.8) rotate(-90)" font-size="5.1" text-anchor="middle" textLength="22.4" lengthAdjust="spacingAndGlyphs">Rain (mm)</text>
<text transform="translate(313.5 560.4) rotate(-90) scale(0.86 1)" font-size="4.9" text-anchor="end" style="stroke-width:0.28px">1-Aug-19</text>
<text transform="translate(321.02 560.4) rotate(-90) scale(0.86 1)" font-size="4.9" text-anchor="end" style="stroke-width:0.28px">2-Aug-19</text>
<text transform="translate(328.54 560.4) rotate(-90) scale(0.86 1)" font-size="4.9" text-anchor="end" style="stroke-width:0.28px">3-Aug-19</text>
<text transform="translate(336.06 560.4) rotate(-90) scale(0.86 1)" font-size="4.9" text-anchor="end" style="stroke-width:0.28px">4-Aug-19</text>
<text transform="translate(343.58 560.4) rotate(-90) scale(0.86 1)" font-size="4.9" text-anchor="end" style="stroke-width:0.28px">5-Aug-19</text>
<text transform="translate(351.1 560.4) rotate(-90) scale(0.86 1)" font-size="4.9" text-anchor="end" style="stroke-width:0.28px">6-Aug-19</text>
<text transform="translate(358.62 560.4) rotate(-90) scale(0.86 1)" font-size="4.9" text-anchor="end" style="stroke-width:0.28px">7-Aug-19</text>
<text transform="translate(366.14 560.4) rotate(-90) scale(0.86 1)" font-size="4.9" text-anchor="end" style="stroke-width:0.28px">8-Aug-19</text>
<text transform="translate(373.66 560.4) rotate(-90) scale(0.86 1)" font-size="4.9" text-anchor="end" style="stroke-width:0.28px">9-Aug-19</text>
<text transform="translate(381.18 560.4) rotate(-90) scale(0.86 1)" font-size="4.9" text-anchor="end" style="stroke-width:0.28px">10-Aug-19</text>
<text transform="translate(388.7 560.4) rotate(-90) scale(0.86 1)" font-size="4.9" text-anchor="end" style="stroke-width:0.28px">11-Aug-19</text>
<text transform="translate(396.22 560.4) rotate(-90) scale(0.86 1)" font-size="4.9" text-anchor="end" style="stroke-width:0.28px">12-Aug-19</text>
<text transform="translate(403.74 560.4) rotate(-90) scale(0.86 1)" font-size="4.9" text-anchor="end" style="stroke-width:0.28px">13-Aug-19</text>
<text transform="translate(411.26 560.4) rotate(-90) scale(0.86 1)" font-size="4.9" text-anchor="end" style="stroke-width:0.28px">14-Aug-19</text>
<text transform="translate(418.78 560.4) rotate(-90) scale(0.86 1)" font-size="4.9" text-anchor="end" style="stroke-width:0.28px">15-Aug-19</text>
<text transform="translate(426.3 560.4) rotate(-90) scale(0.86 1)" font-size="4.9" text-anchor="end" style="stroke-width:0.28px">16-Aug-19</text>
<text transform="translate(433.82 560.4) rotate(-90) scale(0.86 1)" font-size="4.9" text-anchor="end" style="stroke-width:0.28px">17-Aug-19</text>
<text transform="translate(441.34 560.4) rotate(-90) scale(0.86 1)" font-size="4.9" text-anchor="end" style="stroke-width:0.28px">18-Aug-19</text>
<text transform="translate(448.86 560.4) rotate(-90) scale(0.86 1)" font-size="4.9" text-anchor="end" style="stroke-width:0.28px">19-Aug-19</text>
<text transform="translate(456.38 560.4) rotate(-90) scale(0.86 1)" font-size="4.9" text-anchor="end" style="stroke-width:0.28px">20-Aug-19</text>
<text transform="translate(463.9 560.4) rotate(-90) scale(0.86 1)" font-size="4.9" text-anchor="end" style="stroke-width:0.28px">21-Aug-19</text>
<text transform="translate(471.42 560.4) rotate(-90) scale(0.86 1)" font-size="4.9" text-anchor="end" style="stroke-width:0.28px">22-Aug-19</text>
<text transform="translate(478.94 560.4) rotate(-90) scale(0.86 1)" font-size="4.9" text-anchor="end" style="stroke-width:0.28px">23-Aug-19</text>
<text transform="translate(486.46 560.4) rotate(-90) scale(0.86 1)" font-size="4.9" text-anchor="end" style="stroke-width:0.28px">24-Aug-19</text>
<text transform="translate(493.98 560.4) rotate(-90) scale(0.86 1)" font-size="4.9" text-anchor="end" style="stroke-width:0.28px">25-Aug-19</text>
<text transform="translate(501.5 560.4) rotate(-90) scale(0.86 1)" font-size="4.9" text-anchor="end" style="stroke-width:0.28px">26-Aug-19</text>
<text transform="translate(509.02 560.4) rotate(-90) scale(0.86 1)" font-size="4.9" text-anchor="end" style="stroke-width:0.28px">27-Aug-19</text>
<text transform="translate(516.54 560.4) rotate(-90) scale(0.86 1)" font-size="4.9" text-anchor="end" style="stroke-width:0.28px">28-Aug-19</text>
<text transform="translate(524.06 560.4) rotate(-90) scale(0.86 1)" font-size="4.9" text-anchor="end" style="stroke-width:0.28px">29-Aug-19</text>
<text transform="translate(531.58 560.4) rotate(-90) scale(0.86 1)" font-size="4.9" text-anchor="end" style="stroke-width:0.28px">30-Aug-19</text>
<text transform="translate(539.1 560.4) rotate(-90) scale(0.86 1)" font-size="4.9" text-anchor="end" style="stroke-width:0.28px">31-Aug-19</text>
<text transform="translate(424.3 587.9) scale(0.92 1)" font-size="5.1" text-anchor="middle">Day</text>
<polyline points="311.2,557 318.72,557 326.24,557 333.76,555.6 341.28,555.6 348.8,556.72 356.32,546.44 363.84,555.6 371.36,554.05 378.88,551.66 386.4,555.54 393.92,548.66 401.44,507.02 408.96,554.47 416.48,557 424,556.16 431.52,555.6 439.04,557 446.56,552.23 454.08,554.56 461.6,549.14 469.12,545.71 476.64,553.32 484.16,553.8 491.68,547.17 499.2,553.8 506.72,556.52 514.24,555.03 521.76,518.47 529.28,556.27 536.8,554.3" fill="none" stroke="#1b6690" stroke-width="1.4" stroke-linejoin="round" stroke-linecap="round"/>
<g fill="#1b6690"><circle cx="311.2" cy="557" r="1.65"/><circle cx="318.72" cy="557" r="1.65"/><circle cx="326.24" cy="557" r="1.65"/><circle cx="333.76" cy="555.6" r="1.65"/><circle cx="341.28" cy="555.6" r="1.65"/><circle cx="348.8" cy="556.72" r="1.65"/><circle cx="356.32" cy="546.44" r="1.65"/><circle cx="363.84" cy="555.6" r="1.65"/><circle cx="371.36" cy="554.05" r="1.65"/><circle cx="378.88" cy="551.66" r="1.65"/><circle cx="386.4" cy="555.54" r="1.65"/><circle cx="393.92" cy="548.66" r="1.65"/><circle cx="401.44" cy="507.02" r="1.65"/><circle cx="408.96" cy="554.47" r="1.65"/><circle cx="416.48" cy="557" r="1.65"/><circle cx="424" cy="556.16" r="1.65"/><circle cx="431.52" cy="555.6" r="1.65"/><circle cx="439.04" cy="557" r="1.65"/><circle cx="446.56" cy="552.23" r="1.65"/><circle cx="454.08" cy="554.56" r="1.65"/><circle cx="461.6" cy="549.14" r="1.65"/><circle cx="469.12" cy="545.71" r="1.65"/><circle cx="476.64" cy="553.32" r="1.65"/><circle cx="484.16" cy="553.8" r="1.65"/><circle cx="491.68" cy="547.17" r="1.65"/><circle cx="499.2" cy="553.8" r="1.65"/><circle cx="506.72" cy="556.52" r="1.65"/><circle cx="514.24" cy="555.03" r="1.65"/><circle cx="521.76" cy="518.47" r="1.65"/><circle cx="529.28" cy="556.27" r="1.65"/><circle cx="536.8" cy="554.3" r="1.65"/></g>
<polyline points="311.2,555.54 318.72,557 326.24,555.76 333.76,555.29 341.28,555.54 348.8,555.54 356.32,548.15 363.84,556.52 371.36,553.57 378.88,551.36 386.4,554.3 393.92,541.56 401.44,499.32 408.96,554.3 416.48,557 424,556.02 431.52,554.56 439.04,557 446.56,552.09 454.08,553.8 461.6,551.83 469.12,548.41 476.64,555.29 484.16,553.32 491.68,545.21 499.2,551.36 506.72,556.27 514.24,550.37 521.76,521.9 529.28,548.91 536.8,554.3" fill="none" stroke="#f96a13" stroke-width="1.4" stroke-linejoin="round" stroke-linecap="round"/>
<g fill="#f96a13"><circle cx="311.2" cy="555.54" r="1.65"/><circle cx="318.72" cy="557" r="1.65"/><circle cx="326.24" cy="555.76" r="1.65"/><circle cx="333.76" cy="555.29" r="1.65"/><circle cx="341.28" cy="555.54" r="1.65"/><circle cx="348.8" cy="555.54" r="1.65"/><circle cx="356.32" cy="548.15" r="1.65"/><circle cx="363.84" cy="556.52" r="1.65"/><circle cx="371.36" cy="553.57" r="1.65"/><circle cx="378.88" cy="551.36" r="1.65"/><circle cx="386.4" cy="554.3" r="1.65"/><circle cx="393.92" cy="541.56" r="1.65"/><circle cx="401.44" cy="499.32" r="1.65"/><circle cx="408.96" cy="554.3" r="1.65"/><circle cx="416.48" cy="557" r="1.65"/><circle cx="424" cy="556.02" r="1.65"/><circle cx="431.52" cy="554.56" r="1.65"/><circle cx="439.04" cy="557" r="1.65"/><circle cx="446.56" cy="552.09" r="1.65"/><circle cx="454.08" cy="553.8" r="1.65"/><circle cx="461.6" cy="551.83" r="1.65"/><circle cx="469.12" cy="548.41" r="1.65"/><circle cx="476.64" cy="555.29" r="1.65"/><circle cx="484.16" cy="553.32" r="1.65"/><circle cx="491.68" cy="545.21" r="1.65"/><circle cx="499.2" cy="551.36" r="1.65"/><circle cx="506.72" cy="556.27" r="1.65"/><circle cx="514.24" cy="550.37" r="1.65"/><circle cx="521.76" cy="521.9" r="1.65"/><circle cx="529.28" cy="548.91" r="1.65"/><circle cx="536.8" cy="554.3" r="1.65"/></g>
<line x1="382.6" x2="393.9" y1="601" y2="601" stroke="#1b6690" stroke-width="1.4"/><circle cx="388.25" cy="601" r="1.65" fill="#1b6690"/>
<text x="394.6" y="602.7" font-size="5.1" textLength="13.4" lengthAdjust="spacingAndGlyphs">Actual</text>
<line x1="413" x2="424.5" y1="601" y2="601" stroke="#f96a13" stroke-width="1.4"/><circle cx="418.75" cy="601" r="1.65" fill="#f96a13"/>
<text x="425.2" y="602.7" font-size="5.1" textLength="20.4" lengthAdjust="spacingAndGlyphs">Predicted</text>
</g>
</svg></body></html>
